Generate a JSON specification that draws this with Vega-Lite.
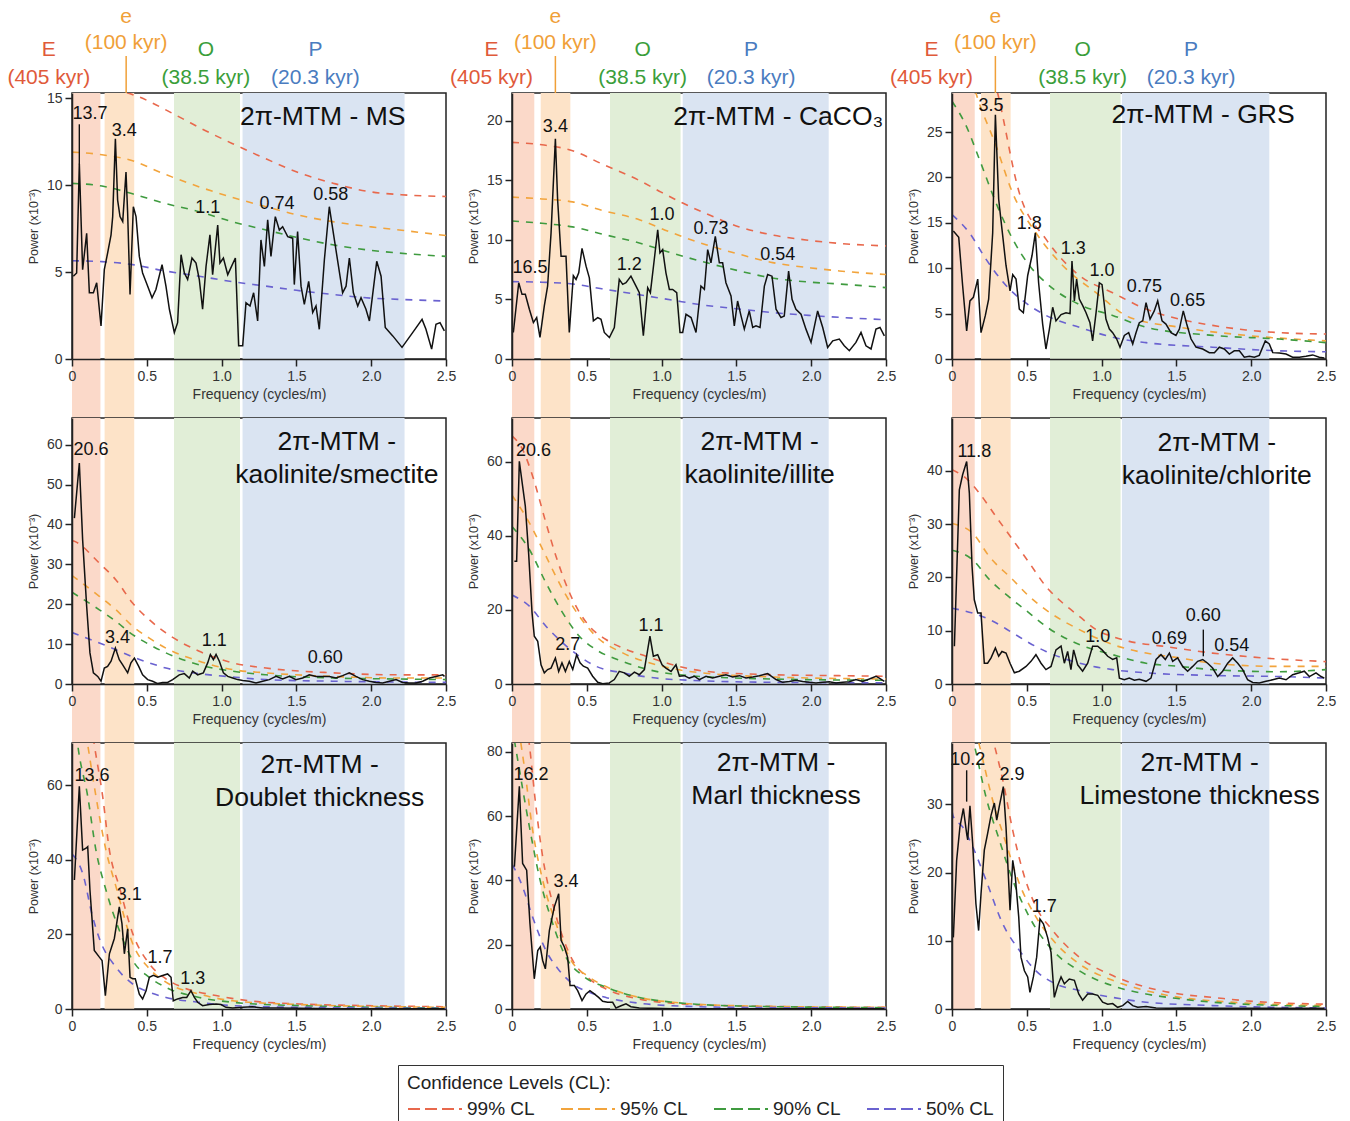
{
"$schema":"https://vega.github.io/schema/vega-lite/v6.json",
"background":"white",
"padding":{"left":6,"top":5,"right":5,"bottom":5},
"config":{
 "font":"Liberation Sans",
 "view":{"stroke":"#222","strokeWidth":1.5},
 "axis":{"grid":false,"domainColor":"#222","domainWidth":1.5,"tickColor":"#222","tickWidth":1.5,"tickSize":7,"labelColor":"#333","labelFontSize":14,"labelFont":"Liberation Sans","titleFont":"Liberation Sans","titleFontWeight":"normal","titleColor":"#333","zindex":1,"labelFlush":false,"labelOverlap":false},
 "axisX":{"titleFontSize":14,"labelPadding":3,"titlePadding":4},
 "axisY":{"titleFontSize":12.5,"labelPadding":3,"titlePadding":6},
 "text":{"font":"Liberation Sans"}
},
"resolve":{"scale":{"color":"independent","fill":"independent"},"legend":{"color":"independent","fill":"independent"}},
"datasets":{
"bands":[
{"col":0,"band":"E","f0":0,"f1":0.19},{"col":0,"band":"e","f0":0.218,"f1":0.416},{"col":0,"band":"O","f0":0.682,"f1":1.123},{"col":0,"band":"P","f0":1.14,"f1":2.223},
{"col":1,"band":"E","f0":0,"f1":0.149},{"col":1,"band":"e","f0":0.192,"f1":0.39},{"col":1,"band":"O","f0":0.655,"f1":1.127},{"col":1,"band":"P","f0":1.141,"f1":2.117},
{"col":2,"band":"E","f0":0,"f1":0.152},{"col":2,"band":"e","f0":0.194,"f1":0.392},{"col":2,"band":"O","f0":0.655,"f1":1.127},{"col":2,"band":"P","f0":1.136,"f1":2.121}
],
"bandlab":[
{"col":0,"band":"E","name":"E","per":"(405 kyr)","f":-0.155},{"col":0,"band":"e","name":"e","per":"(100 kyr)","f":0.362},{"col":0,"band":"O","name":"O","per":"(38.5 kyr)","f":0.895},{"col":0,"band":"P","name":"P","per":"(20.3 kyr)","f":1.627},
{"col":1,"band":"E","name":"E","per":"(405 kyr)","f":-0.137},{"col":1,"band":"e","name":"e","per":"(100 kyr)","f":0.29},{"col":1,"band":"O","name":"O","per":"(38.5 kyr)","f":0.873},{"col":1,"band":"P","name":"P","per":"(20.3 kyr)","f":1.598},
{"col":2,"band":"E","name":"E","per":"(405 kyr)","f":-0.137},{"col":2,"band":"e","name":"e","per":"(100 kyr)","f":0.29},{"col":2,"band":"O","name":"O","per":"(38.5 kyr)","f":0.873},{"col":2,"band":"P","name":"P","per":"(20.3 kyr)","f":1.598}
],
"peaks":[
{"p":"MS","f":0.12,"v":14.1,"t":"13.7"},{"p":"MS","f":0.35,"v":13.1,"t":"3.4"},{"p":"MS","f":0.907,"v":8.66,"t":"1.1"},{"p":"MS","f":1.37,"v":8.9,"t":"0.74"},{"p":"MS","f":1.73,"v":9.46,"t":"0.58"},
{"p":"CaCO3","f":0.12,"v":7.66,"t":"16.5"},{"p":"CaCO3","f":0.29,"v":19.5,"t":"3.4"},{"p":"CaCO3","f":0.784,"v":7.94,"t":"1.2"},{"p":"CaCO3","f":1.003,"v":12.1,"t":"1.0"},{"p":"CaCO3","f":1.33,"v":10.9,"t":"0.73"},{"p":"CaCO3","f":1.776,"v":8.77,"t":"0.54"},
{"p":"GRS","f":0.26,"v":27.9,"t":"3.5"},{"p":"GRS","f":0.517,"v":14.85,"t":"1.8"},{"p":"GRS","f":0.811,"v":12.1,"t":"1.3"},{"p":"GRS","f":1.003,"v":9.7,"t":"1.0"},{"p":"GRS","f":1.286,"v":7.9,"t":"0.75"},{"p":"GRS","f":1.575,"v":6.4,"t":"0.65"},
{"p":"KS","f":0.127,"v":58.7,"t":"20.6"},{"p":"KS","f":0.305,"v":11.5,"t":"3.4"},{"p":"KS","f":0.951,"v":10.7,"t":"1.1"},{"p":"KS","f":1.693,"v":6.5,"t":"0.60"},
{"p":"KI","f":0.143,"v":62.8,"t":"20.6"},{"p":"KI","f":0.372,"v":10.6,"t":"2.7"},{"p":"KI","f":0.929,"v":15.6,"t":"1.1"},
{"p":"KC","f":0.149,"v":43.6,"t":"11.8"},{"p":"KC","f":0.974,"v":8.9,"t":"1.0"},{"p":"KC","f":1.453,"v":8.4,"t":"0.69"},{"p":"KC","f":1.68,"v":12.7,"t":"0.60"},{"p":"KC","f":1.87,"v":7.1,"t":"0.54"},
{"p":"DT","f":0.134,"v":62.4,"t":"13.6"},{"p":"DT","f":0.383,"v":30.5,"t":"3.1"},{"p":"DT","f":0.588,"v":13.7,"t":"1.7"},{"p":"DT","f":0.807,"v":8.1,"t":"1.3"},
{"p":"MT","f":0.127,"v":72.9,"t":"16.2"},{"p":"MT","f":0.361,"v":39.6,"t":"3.4"},
{"p":"LT","f":0.105,"v":36.5,"t":"10.2"},{"p":"LT","f":0.401,"v":34.3,"t":"2.9"},{"p":"LT","f":0.617,"v":15.0,"t":"1.7"}
],
"leads":[
{"p":"MS","f":0.049,"v0":11.2,"v1":13.5},{"p":"KC","f":1.68,"v0":5.2,"v1":10.2},{"p":"LT","f":0.098,"v0":30.4,"v1":35.0}
],
"cl":[
{"p":"MS","c":"99% CL","f":0,"v":15.9},{"p":"MS","c":"99% CL","f":0.25,"v":15.6},{"p":"MS","c":"99% CL","f":0.44,"v":15.1},{"p":"MS","c":"99% CL","f":0.7,"v":14.0},{"p":"MS","c":"99% CL","f":0.9,"v":13.1},{"p":"MS","c":"99% CL","f":1.07,"v":12.4},{"p":"MS","c":"99% CL","f":1.3,"v":11.5},{"p":"MS","c":"99% CL","f":1.52,"v":10.7},{"p":"MS","c":"99% CL","f":1.75,"v":10.1},{"p":"MS","c":"99% CL","f":1.97,"v":9.65},{"p":"MS","c":"99% CL","f":2.2,"v":9.45},{"p":"MS","c":"99% CL","f":2.5,"v":9.35},
{"p":"MS","c":"95% CL","f":0,"v":11.9},{"p":"MS","c":"95% CL","f":0.2,"v":11.75},{"p":"MS","c":"95% CL","f":0.405,"v":11.4},{"p":"MS","c":"95% CL","f":0.6,"v":10.7},{"p":"MS","c":"95% CL","f":0.851,"v":9.9},{"p":"MS","c":"95% CL","f":1.07,"v":9.3},{"p":"MS","c":"95% CL","f":1.297,"v":8.76},{"p":"MS","c":"95% CL","f":1.5,"v":8.3},{"p":"MS","c":"95% CL","f":1.742,"v":7.9},{"p":"MS","c":"95% CL","f":2.0,"v":7.6},{"p":"MS","c":"95% CL","f":2.188,"v":7.42},{"p":"MS","c":"95% CL","f":2.5,"v":7.1},
{"p":"MS","c":"90% CL","f":0,"v":10.1},{"p":"MS","c":"90% CL","f":0.2,"v":9.95},{"p":"MS","c":"90% CL","f":0.405,"v":9.5},{"p":"MS","c":"90% CL","f":0.6,"v":9.0},{"p":"MS","c":"90% CL","f":0.851,"v":8.47},{"p":"MS","c":"90% CL","f":1.07,"v":7.9},{"p":"MS","c":"90% CL","f":1.297,"v":7.42},{"p":"MS","c":"90% CL","f":1.5,"v":7.0},{"p":"MS","c":"90% CL","f":1.742,"v":6.57},{"p":"MS","c":"90% CL","f":2.0,"v":6.25},{"p":"MS","c":"90% CL","f":2.188,"v":6.09},{"p":"MS","c":"90% CL","f":2.5,"v":5.9},
{"p":"MS","c":"50% CL","f":0,"v":5.65},{"p":"MS","c":"50% CL","f":0.2,"v":5.6},{"p":"MS","c":"50% CL","f":0.405,"v":5.43},{"p":"MS","c":"50% CL","f":0.6,"v":5.1},{"p":"MS","c":"50% CL","f":0.851,"v":4.76},{"p":"MS","c":"50% CL","f":1.07,"v":4.45},{"p":"MS","c":"50% CL","f":1.297,"v":4.19},{"p":"MS","c":"50% CL","f":1.5,"v":3.95},{"p":"MS","c":"50% CL","f":1.742,"v":3.71},{"p":"MS","c":"50% CL","f":2.0,"v":3.5},{"p":"MS","c":"50% CL","f":2.188,"v":3.43},{"p":"MS","c":"50% CL","f":2.5,"v":3.33},

{"p":"CaCO3","c":"99% CL","f":0,"v":18.2},{"p":"CaCO3","c":"99% CL","f":0.2,"v":18.0},{"p":"CaCO3","c":"99% CL","f":0.405,"v":17.5},{"p":"CaCO3","c":"99% CL","f":0.6,"v":16.4},{"p":"CaCO3","c":"99% CL","f":0.851,"v":15.0},{"p":"CaCO3","c":"99% CL","f":1.0,"v":14.0},{"p":"CaCO3","c":"99% CL","f":1.141,"v":13.1},{"p":"CaCO3","c":"99% CL","f":1.3,"v":12.2},{"p":"CaCO3","c":"99% CL","f":1.52,"v":11.1},{"p":"CaCO3","c":"99% CL","f":1.75,"v":10.4},{"p":"CaCO3","c":"99% CL","f":1.965,"v":10.0},{"p":"CaCO3","c":"99% CL","f":2.2,"v":9.7},{"p":"CaCO3","c":"99% CL","f":2.5,"v":9.5},
{"p":"CaCO3","c":"95% CL","f":0,"v":13.6},{"p":"CaCO3","c":"95% CL","f":0.2,"v":13.45},{"p":"CaCO3","c":"95% CL","f":0.405,"v":13.2},{"p":"CaCO3","c":"95% CL","f":0.6,"v":12.5},{"p":"CaCO3","c":"95% CL","f":0.851,"v":11.7},{"p":"CaCO3","c":"95% CL","f":1.07,"v":10.6},{"p":"CaCO3","c":"95% CL","f":1.297,"v":9.6},{"p":"CaCO3","c":"95% CL","f":1.52,"v":8.8},{"p":"CaCO3","c":"95% CL","f":1.742,"v":8.1},{"p":"CaCO3","c":"95% CL","f":2.0,"v":7.65},{"p":"CaCO3","c":"95% CL","f":2.188,"v":7.4},{"p":"CaCO3","c":"95% CL","f":2.5,"v":7.1},
{"p":"CaCO3","c":"90% CL","f":0,"v":11.6},{"p":"CaCO3","c":"90% CL","f":0.2,"v":11.4},{"p":"CaCO3","c":"90% CL","f":0.405,"v":11.1},{"p":"CaCO3","c":"90% CL","f":0.6,"v":10.5},{"p":"CaCO3","c":"90% CL","f":0.851,"v":9.75},{"p":"CaCO3","c":"90% CL","f":1.07,"v":8.9},{"p":"CaCO3","c":"90% CL","f":1.297,"v":8.1},{"p":"CaCO3","c":"90% CL","f":1.52,"v":7.4},{"p":"CaCO3","c":"90% CL","f":1.742,"v":6.8},{"p":"CaCO3","c":"90% CL","f":2.0,"v":6.45},{"p":"CaCO3","c":"90% CL","f":2.188,"v":6.3},{"p":"CaCO3","c":"90% CL","f":2.5,"v":6.0},
{"p":"CaCO3","c":"50% CL","f":0,"v":6.5},{"p":"CaCO3","c":"50% CL","f":0.2,"v":6.45},{"p":"CaCO3","c":"50% CL","f":0.405,"v":6.3},{"p":"CaCO3","c":"50% CL","f":0.6,"v":5.9},{"p":"CaCO3","c":"50% CL","f":0.851,"v":5.4},{"p":"CaCO3","c":"50% CL","f":1.07,"v":4.95},{"p":"CaCO3","c":"50% CL","f":1.297,"v":4.5},{"p":"CaCO3","c":"50% CL","f":1.52,"v":4.2},{"p":"CaCO3","c":"50% CL","f":1.742,"v":3.9},{"p":"CaCO3","c":"50% CL","f":2.0,"v":3.65},{"p":"CaCO3","c":"50% CL","f":2.188,"v":3.5},{"p":"CaCO3","c":"50% CL","f":2.5,"v":3.3},

{"p":"GRS","c":"99% CL","f":0,"v":44},{"p":"GRS","c":"99% CL","f":0.15,"v":38},{"p":"GRS","c":"99% CL","f":0.305,"v":29.3},{"p":"GRS","c":"99% CL","f":0.45,"v":18.3},{"p":"GRS","c":"99% CL","f":0.628,"v":13.2},{"p":"GRS","c":"99% CL","f":0.851,"v":9.2},{"p":"GRS","c":"99% CL","f":1.074,"v":7.3},{"p":"GRS","c":"99% CL","f":1.297,"v":5.5},{"p":"GRS","c":"99% CL","f":1.52,"v":4.4},{"p":"GRS","c":"99% CL","f":1.742,"v":3.7},{"p":"GRS","c":"99% CL","f":1.965,"v":3.2},{"p":"GRS","c":"99% CL","f":2.188,"v":2.9},{"p":"GRS","c":"99% CL","f":2.5,"v":2.75},
{"p":"GRS","c":"95% CL","f":0,"v":40},{"p":"GRS","c":"95% CL","f":0.16,"v":29.3},{"p":"GRS","c":"95% CL","f":0.294,"v":23.5},{"p":"GRS","c":"95% CL","f":0.405,"v":18.3},{"p":"GRS","c":"95% CL","f":0.561,"v":13.9},{"p":"GRS","c":"95% CL","f":0.74,"v":10.3},{"p":"GRS","c":"95% CL","f":0.963,"v":7.3},{"p":"GRS","c":"95% CL","f":1.185,"v":4.6},{"p":"GRS","c":"95% CL","f":1.52,"v":3.5},{"p":"GRS","c":"95% CL","f":1.965,"v":2.6},{"p":"GRS","c":"95% CL","f":2.5,"v":2.0},
{"p":"GRS","c":"90% CL","f":0,"v":28.4},{"p":"GRS","c":"90% CL","f":0.094,"v":25.7},{"p":"GRS","c":"90% CL","f":0.183,"v":22.0},{"p":"GRS","c":"90% CL","f":0.294,"v":17.2},{"p":"GRS","c":"90% CL","f":0.406,"v":13.2},{"p":"GRS","c":"90% CL","f":0.517,"v":10.3},{"p":"GRS","c":"90% CL","f":0.628,"v":8.4},{"p":"GRS","c":"90% CL","f":0.851,"v":6.0},{"p":"GRS","c":"90% CL","f":1.074,"v":4.8},{"p":"GRS","c":"90% CL","f":1.297,"v":3.5},{"p":"GRS","c":"90% CL","f":1.742,"v":2.6},{"p":"GRS","c":"90% CL","f":2.188,"v":2.2},{"p":"GRS","c":"90% CL","f":2.5,"v":1.8},
{"p":"GRS","c":"50% CL","f":0,"v":15.9},{"p":"GRS","c":"50% CL","f":0.116,"v":13.9},{"p":"GRS","c":"50% CL","f":0.227,"v":11.0},{"p":"GRS","c":"50% CL","f":0.361,"v":8.1},{"p":"GRS","c":"50% CL","f":0.517,"v":5.9},{"p":"GRS","c":"50% CL","f":0.628,"v":4.8},{"p":"GRS","c":"50% CL","f":0.851,"v":3.5},{"p":"GRS","c":"50% CL","f":1.074,"v":2.4},{"p":"GRS","c":"50% CL","f":1.297,"v":1.8},{"p":"GRS","c":"50% CL","f":1.742,"v":1.3},{"p":"GRS","c":"50% CL","f":2.188,"v":0.9},{"p":"GRS","c":"50% CL","f":2.5,"v":0.8},

{"p":"KS","c":"99% CL","f":0,"v":36},{"p":"KS","c":"99% CL","f":0.016,"v":35.8},{"p":"KS","c":"99% CL","f":0.183,"v":30.3},{"p":"KS","c":"99% CL","f":0.294,"v":26.1},{"p":"KS","c":"99% CL","f":0.405,"v":20.3},{"p":"KS","c":"99% CL","f":0.517,"v":16.1},{"p":"KS","c":"99% CL","f":0.628,"v":12.8},{"p":"KS","c":"99% CL","f":0.851,"v":8.2},{"p":"KS","c":"99% CL","f":1.074,"v":5.3},{"p":"KS","c":"99% CL","f":1.297,"v":4.0},{"p":"KS","c":"99% CL","f":1.742,"v":2.8},{"p":"KS","c":"99% CL","f":2.188,"v":2.3},{"p":"KS","c":"99% CL","f":2.5,"v":2.3},
{"p":"KS","c":"95% CL","f":0,"v":27.2},{"p":"KS","c":"95% CL","f":0.183,"v":22.0},{"p":"KS","c":"95% CL","f":0.294,"v":18.6},{"p":"KS","c":"95% CL","f":0.405,"v":14.5},{"p":"KS","c":"95% CL","f":0.517,"v":11.5},{"p":"KS","c":"95% CL","f":0.628,"v":9.0},{"p":"KS","c":"95% CL","f":0.851,"v":5.7},{"p":"KS","c":"95% CL","f":1.074,"v":3.6},{"p":"KS","c":"95% CL","f":1.297,"v":2.8},{"p":"KS","c":"95% CL","f":1.742,"v":1.9},{"p":"KS","c":"95% CL","f":2.188,"v":1.5},{"p":"KS","c":"95% CL","f":2.5,"v":1.5},
{"p":"KS","c":"90% CL","f":0,"v":23.0},{"p":"KS","c":"90% CL","f":0.183,"v":18.6},{"p":"KS","c":"90% CL","f":0.294,"v":15.7},{"p":"KS","c":"90% CL","f":0.405,"v":12.4},{"p":"KS","c":"90% CL","f":0.517,"v":9.9},{"p":"KS","c":"90% CL","f":0.628,"v":7.8},{"p":"KS","c":"90% CL","f":0.851,"v":4.8},{"p":"KS","c":"90% CL","f":1.074,"v":3.2},{"p":"KS","c":"90% CL","f":1.297,"v":2.3},{"p":"KS","c":"90% CL","f":1.742,"v":1.5},{"p":"KS","c":"90% CL","f":2.188,"v":1.25},{"p":"KS","c":"90% CL","f":2.5,"v":1.1},
{"p":"KS","c":"50% CL","f":0,"v":12.9},{"p":"KS","c":"50% CL","f":0.183,"v":10.3},{"p":"KS","c":"50% CL","f":0.294,"v":8.6},{"p":"KS","c":"50% CL","f":0.405,"v":6.8},{"p":"KS","c":"50% CL","f":0.517,"v":5.3},{"p":"KS","c":"50% CL","f":0.628,"v":4.0},{"p":"KS","c":"50% CL","f":0.851,"v":2.6},{"p":"KS","c":"50% CL","f":1.074,"v":1.75},{"p":"KS","c":"50% CL","f":1.297,"v":1.1},{"p":"KS","c":"50% CL","f":1.742,"v":0.7},{"p":"KS","c":"50% CL","f":2.5,"v":0.4},

{"p":"KI","c":"99% CL","f":0,"v":67},{"p":"KI","c":"99% CL","f":0.071,"v":63.3},{"p":"KI","c":"99% CL","f":0.138,"v":56.1},{"p":"KI","c":"99% CL","f":0.227,"v":43.5},{"p":"KI","c":"99% CL","f":0.294,"v":34.5},{"p":"KI","c":"99% CL","f":0.405,"v":22.8},{"p":"KI","c":"99% CL","f":0.517,"v":15.6},{"p":"KI","c":"99% CL","f":0.628,"v":12.0},{"p":"KI","c":"99% CL","f":0.74,"v":9.7},{"p":"KI","c":"99% CL","f":0.896,"v":7.5},{"p":"KI","c":"99% CL","f":1.074,"v":5.2},{"p":"KI","c":"99% CL","f":1.297,"v":3.4},{"p":"KI","c":"99% CL","f":1.742,"v":2.5},{"p":"KI","c":"99% CL","f":2.188,"v":2.25},{"p":"KI","c":"99% CL","f":2.5,"v":2.1},
{"p":"KI","c":"95% CL","f":0,"v":51},{"p":"KI","c":"95% CL","f":0.116,"v":43.5},{"p":"KI","c":"95% CL","f":0.227,"v":34.5},{"p":"KI","c":"95% CL","f":0.339,"v":25.5},{"p":"KI","c":"95% CL","f":0.45,"v":18.3},{"p":"KI","c":"95% CL","f":0.561,"v":12.9},{"p":"KI","c":"95% CL","f":0.74,"v":8.4},{"p":"KI","c":"95% CL","f":0.963,"v":5.2},{"p":"KI","c":"95% CL","f":1.185,"v":3.4},{"p":"KI","c":"95% CL","f":1.742,"v":1.9},{"p":"KI","c":"95% CL","f":2.5,"v":1.35},
{"p":"KI","c":"90% CL","f":0,"v":42.5},{"p":"KI","c":"90% CL","f":0.116,"v":36.3},{"p":"KI","c":"90% CL","f":0.227,"v":27.3},{"p":"KI","c":"90% CL","f":0.339,"v":19.2},{"p":"KI","c":"90% CL","f":0.45,"v":12.9},{"p":"KI","c":"90% CL","f":0.561,"v":9.3},{"p":"KI","c":"90% CL","f":0.74,"v":6.1},{"p":"KI","c":"90% CL","f":0.963,"v":3.4},{"p":"KI","c":"90% CL","f":1.185,"v":2.25},{"p":"KI","c":"90% CL","f":1.742,"v":1.35},{"p":"KI","c":"90% CL","f":2.5,"v":1.0},
{"p":"KI","c":"50% CL","f":0,"v":24},{"p":"KI","c":"50% CL","f":0.116,"v":21.0},{"p":"KI","c":"50% CL","f":0.227,"v":15.6},{"p":"KI","c":"50% CL","f":0.339,"v":11.1},{"p":"KI","c":"50% CL","f":0.45,"v":7.5},{"p":"KI","c":"50% CL","f":0.561,"v":4.8},{"p":"KI","c":"50% CL","f":0.74,"v":3.0},{"p":"KI","c":"50% CL","f":0.963,"v":1.6},{"p":"KI","c":"50% CL","f":1.185,"v":1.0},{"p":"KI","c":"50% CL","f":1.742,"v":0.45},{"p":"KI","c":"50% CL","f":2.5,"v":0.3},

{"p":"KC","c":"99% CL","f":0,"v":40.2},{"p":"KC","c":"99% CL","f":0.094,"v":38.6},{"p":"KC","c":"99% CL","f":0.183,"v":35.8},{"p":"KC","c":"99% CL","f":0.294,"v":31.4},{"p":"KC","c":"99% CL","f":0.405,"v":27.1},{"p":"KC","c":"99% CL","f":0.517,"v":22.7},{"p":"KC","c":"99% CL","f":0.628,"v":18.3},{"p":"KC","c":"99% CL","f":0.74,"v":15.2},{"p":"KC","c":"99% CL","f":0.851,"v":12.7},{"p":"KC","c":"99% CL","f":0.963,"v":10.2},{"p":"KC","c":"99% CL","f":1.074,"v":8.9},{"p":"KC","c":"99% CL","f":1.185,"v":8.0},{"p":"KC","c":"99% CL","f":1.408,"v":7.1},{"p":"KC","c":"99% CL","f":1.742,"v":5.8},{"p":"KC","c":"99% CL","f":2.077,"v":4.9},{"p":"KC","c":"99% CL","f":2.5,"v":4.2},
{"p":"KC","c":"95% CL","f":0,"v":30.1},{"p":"KC","c":"95% CL","f":0.138,"v":28.3},{"p":"KC","c":"95% CL","f":0.25,"v":23.9},{"p":"KC","c":"95% CL","f":0.405,"v":19.6},{"p":"KC","c":"95% CL","f":0.517,"v":16.4},{"p":"KC","c":"95% CL","f":0.628,"v":13.9},{"p":"KC","c":"95% CL","f":0.851,"v":10.2},{"p":"KC","c":"95% CL","f":1.074,"v":7.4},{"p":"KC","c":"95% CL","f":1.297,"v":5.8},{"p":"KC","c":"95% CL","f":1.52,"v":4.9},{"p":"KC","c":"95% CL","f":1.742,"v":3.9},{"p":"KC","c":"95% CL","f":2.188,"v":3.3},{"p":"KC","c":"95% CL","f":2.5,"v":3.3},
{"p":"KC","c":"90% CL","f":0,"v":25.1},{"p":"KC","c":"90% CL","f":0.138,"v":23.3},{"p":"KC","c":"90% CL","f":0.25,"v":19.6},{"p":"KC","c":"90% CL","f":0.405,"v":15.8},{"p":"KC","c":"90% CL","f":0.517,"v":13.3},{"p":"KC","c":"90% CL","f":0.628,"v":10.8},{"p":"KC","c":"90% CL","f":0.851,"v":7.4},{"p":"KC","c":"90% CL","f":1.074,"v":5.5},{"p":"KC","c":"90% CL","f":1.297,"v":3.9},{"p":"KC","c":"90% CL","f":1.52,"v":3.3},{"p":"KC","c":"90% CL","f":1.742,"v":2.7},{"p":"KC","c":"90% CL","f":2.188,"v":2.3},{"p":"KC","c":"90% CL","f":2.5,"v":2.7},
{"p":"KC","c":"50% CL","f":0,"v":14.2},{"p":"KC","c":"50% CL","f":0.138,"v":13.3},{"p":"KC","c":"50% CL","f":0.25,"v":12.1},{"p":"KC","c":"50% CL","f":0.405,"v":9.6},{"p":"KC","c":"50% CL","f":0.517,"v":7.7},{"p":"KC","c":"50% CL","f":0.628,"v":6.1},{"p":"KC","c":"50% CL","f":0.851,"v":3.9},{"p":"KC","c":"50% CL","f":1.074,"v":2.7},{"p":"KC","c":"50% CL","f":1.297,"v":2.1},{"p":"KC","c":"50% CL","f":1.742,"v":1.6},{"p":"KC","c":"50% CL","f":2.188,"v":1.4},{"p":"KC","c":"50% CL","f":2.5,"v":1.1},

{"p":"DT","c":"99% CL","f":0,"v":110},{"p":"DT","c":"99% CL","f":0.1,"v":85},{"p":"DT","c":"99% CL","f":0.149,"v":70.9},{"p":"DT","c":"99% CL","f":0.205,"v":57.0},{"p":"DT","c":"99% CL","f":0.25,"v":42.6},{"p":"DT","c":"99% CL","f":0.316,"v":32.8},{"p":"DT","c":"99% CL","f":0.406,"v":20.2},{"p":"DT","c":"99% CL","f":0.517,"v":12.1},{"p":"DT","c":"99% CL","f":0.628,"v":8.1},{"p":"DT","c":"99% CL","f":0.74,"v":5.8},{"p":"DT","c":"99% CL","f":0.963,"v":3.6},{"p":"DT","c":"99% CL","f":1.185,"v":2.2},{"p":"DT","c":"99% CL","f":1.52,"v":1.35},{"p":"DT","c":"99% CL","f":1.965,"v":0.9},{"p":"DT","c":"99% CL","f":2.5,"v":0.6},
{"p":"DT","c":"95% CL","f":0,"v":100},{"p":"DT","c":"95% CL","f":0.105,"v":70.9},{"p":"DT","c":"95% CL","f":0.16,"v":57.0},{"p":"DT","c":"95% CL","f":0.227,"v":42.6},{"p":"DT","c":"95% CL","f":0.294,"v":32.8},{"p":"DT","c":"95% CL","f":0.406,"v":17.5},{"p":"DT","c":"95% CL","f":0.517,"v":10.8},{"p":"DT","c":"95% CL","f":0.628,"v":7.2},{"p":"DT","c":"95% CL","f":0.851,"v":4.0},{"p":"DT","c":"95% CL","f":1.074,"v":2.2},{"p":"DT","c":"95% CL","f":1.52,"v":1.2},{"p":"DT","c":"95% CL","f":2.5,"v":0.45},
{"p":"DT","c":"90% CL","f":0,"v":85},{"p":"DT","c":"90% CL","f":0.038,"v":70.9},{"p":"DT","c":"90% CL","f":0.105,"v":57.0},{"p":"DT","c":"90% CL","f":0.16,"v":42.6},{"p":"DT","c":"90% CL","f":0.227,"v":31.9},{"p":"DT","c":"90% CL","f":0.316,"v":21.1},{"p":"DT","c":"90% CL","f":0.406,"v":13.0},{"p":"DT","c":"90% CL","f":0.517,"v":8.5},{"p":"DT","c":"90% CL","f":0.628,"v":5.8},{"p":"DT","c":"90% CL","f":0.851,"v":3.1},{"p":"DT","c":"90% CL","f":1.074,"v":1.8},{"p":"DT","c":"90% CL","f":1.52,"v":0.9},{"p":"DT","c":"90% CL","f":2.5,"v":0.27},
{"p":"DT","c":"50% CL","f":0,"v":41.5},{"p":"DT","c":"50% CL","f":0.016,"v":40.8},{"p":"DT","c":"50% CL","f":0.071,"v":36.4},{"p":"DT","c":"50% CL","f":0.138,"v":24.7},{"p":"DT","c":"50% CL","f":0.183,"v":18.9},{"p":"DT","c":"50% CL","f":0.294,"v":11.2},{"p":"DT","c":"50% CL","f":0.406,"v":6.7},{"p":"DT","c":"50% CL","f":0.517,"v":4.5},{"p":"DT","c":"50% CL","f":0.628,"v":3.1},{"p":"DT","c":"50% CL","f":0.851,"v":1.8},{"p":"DT","c":"50% CL","f":1.074,"v":0.9},{"p":"DT","c":"50% CL","f":1.52,"v":0.45},{"p":"DT","c":"50% CL","f":2.5,"v":0.18},

{"p":"MT","c":"99% CL","f":0,"v":110},{"p":"MT","c":"99% CL","f":0.116,"v":82.3},{"p":"MT","c":"99% CL","f":0.16,"v":63.0},{"p":"MT","c":"99% CL","f":0.205,"v":47.4},{"p":"MT","c":"99% CL","f":0.272,"v":32.8},{"p":"MT","c":"99% CL","f":0.339,"v":22.4},{"p":"MT","c":"99% CL","f":0.406,"v":15.1},{"p":"MT","c":"99% CL","f":0.517,"v":9.4},{"p":"MT","c":"99% CL","f":0.628,"v":6.25},{"p":"MT","c":"99% CL","f":0.851,"v":3.1},{"p":"MT","c":"99% CL","f":1.074,"v":1.8},{"p":"MT","c":"99% CL","f":1.52,"v":0.94},{"p":"MT","c":"99% CL","f":2.5,"v":0.5},
{"p":"MT","c":"95% CL","f":0,"v":100},{"p":"MT","c":"95% CL","f":0.082,"v":75.5},{"p":"MT","c":"95% CL","f":0.138,"v":55.7},{"p":"MT","c":"95% CL","f":0.205,"v":40.1},{"p":"MT","c":"95% CL","f":0.294,"v":26.6},{"p":"MT","c":"95% CL","f":0.383,"v":16.1},{"p":"MT","c":"95% CL","f":0.517,"v":9.9},{"p":"MT","c":"95% CL","f":0.628,"v":7.0},{"p":"MT","c":"95% CL","f":0.851,"v":3.6},{"p":"MT","c":"95% CL","f":1.074,"v":2.1},{"p":"MT","c":"95% CL","f":1.52,"v":1.0},{"p":"MT","c":"95% CL","f":2.5,"v":0.5},
{"p":"MT","c":"90% CL","f":0,"v":88},{"p":"MT","c":"90% CL","f":0.038,"v":77.6},{"p":"MT","c":"90% CL","f":0.116,"v":56.8},{"p":"MT","c":"90% CL","f":0.183,"v":41.1},{"p":"MT","c":"90% CL","f":0.272,"v":26.6},{"p":"MT","c":"90% CL","f":0.361,"v":16.1},{"p":"MT","c":"90% CL","f":0.472,"v":10.4},{"p":"MT","c":"90% CL","f":0.628,"v":6.8},{"p":"MT","c":"90% CL","f":0.851,"v":3.6},{"p":"MT","c":"90% CL","f":1.074,"v":2.1},{"p":"MT","c":"90% CL","f":1.52,"v":0.94},{"p":"MT","c":"90% CL","f":2.5,"v":0.4},
{"p":"MT","c":"50% CL","f":0,"v":45},{"p":"MT","c":"50% CL","f":0.016,"v":43.75},{"p":"MT","c":"50% CL","f":0.071,"v":38.0},{"p":"MT","c":"50% CL","f":0.138,"v":28.6},{"p":"MT","c":"50% CL","f":0.227,"v":18.2},{"p":"MT","c":"50% CL","f":0.316,"v":12.0},{"p":"MT","c":"50% CL","f":0.406,"v":7.8},{"p":"MT","c":"50% CL","f":0.517,"v":5.2},{"p":"MT","c":"50% CL","f":0.628,"v":3.6},{"p":"MT","c":"50% CL","f":0.851,"v":1.8},{"p":"MT","c":"50% CL","f":1.074,"v":1.0},{"p":"MT","c":"50% CL","f":1.52,"v":0.5},{"p":"MT","c":"50% CL","f":2.5,"v":0.3},

{"p":"LT","c":"99% CL","f":0,"v":60},{"p":"LT","c":"99% CL","f":0.2,"v":45},{"p":"LT","c":"99% CL","f":0.283,"v":38.7},{"p":"LT","c":"99% CL","f":0.339,"v":33.6},{"p":"LT","c":"99% CL","f":0.406,"v":26.2},{"p":"LT","c":"99% CL","f":0.472,"v":20.3},{"p":"LT","c":"99% CL","f":0.561,"v":15.0},{"p":"LT","c":"99% CL","f":0.673,"v":11.5},{"p":"LT","c":"99% CL","f":0.851,"v":7.6},{"p":"LT","c":"99% CL","f":1.074,"v":4.9},{"p":"LT","c":"99% CL","f":1.297,"v":3.2},{"p":"LT","c":"99% CL","f":1.52,"v":2.2},{"p":"LT","c":"99% CL","f":1.742,"v":1.7},{"p":"LT","c":"99% CL","f":1.965,"v":1.2},{"p":"LT","c":"99% CL","f":2.5,"v":0.7},
{"p":"LT","c":"95% CL","f":0,"v":55},{"p":"LT","c":"95% CL","f":0.183,"v":38.7},{"p":"LT","c":"95% CL","f":0.272,"v":30.6},{"p":"LT","c":"95% CL","f":0.361,"v":24.3},{"p":"LT","c":"95% CL","f":0.45,"v":18.4},{"p":"LT","c":"95% CL","f":0.561,"v":13.5},{"p":"LT","c":"95% CL","f":0.695,"v":9.6},{"p":"LT","c":"95% CL","f":0.851,"v":6.6},{"p":"LT","c":"95% CL","f":1.074,"v":4.2},{"p":"LT","c":"95% CL","f":1.297,"v":2.7},{"p":"LT","c":"95% CL","f":1.52,"v":1.7},{"p":"LT","c":"95% CL","f":1.742,"v":1.2},{"p":"LT","c":"95% CL","f":2.5,"v":0.5},
{"p":"LT","c":"90% CL","f":0,"v":50},{"p":"LT","c":"90% CL","f":0.149,"v":38.7},{"p":"LT","c":"90% CL","f":0.227,"v":31.1},{"p":"LT","c":"90% CL","f":0.316,"v":24.8},{"p":"LT","c":"90% CL","f":0.406,"v":18.9},{"p":"LT","c":"90% CL","f":0.517,"v":13.5},{"p":"LT","c":"90% CL","f":0.673,"v":8.6},{"p":"LT","c":"90% CL","f":0.851,"v":5.6},{"p":"LT","c":"90% CL","f":1.074,"v":3.4},{"p":"LT","c":"90% CL","f":1.297,"v":2.2},{"p":"LT","c":"90% CL","f":1.52,"v":1.5},{"p":"LT","c":"90% CL","f":1.742,"v":1.0},{"p":"LT","c":"90% CL","f":2.5,"v":0.35},
{"p":"LT","c":"50% CL","f":0,"v":29},{"p":"LT","c":"50% CL","f":0.009,"v":28.2},{"p":"LT","c":"50% CL","f":0.071,"v":26.7},{"p":"LT","c":"50% CL","f":0.138,"v":23.8},{"p":"LT","c":"50% CL","f":0.227,"v":18.9},{"p":"LT","c":"50% CL","f":0.339,"v":12.5},{"p":"LT","c":"50% CL","f":0.45,"v":8.6},{"p":"LT","c":"50% CL","f":0.561,"v":5.6},{"p":"LT","c":"50% CL","f":0.673,"v":3.9},{"p":"LT","c":"50% CL","f":0.851,"v":2.7},{"p":"LT","c":"50% CL","f":1.074,"v":1.7},{"p":"LT","c":"50% CL","f":1.297,"v":1.0},{"p":"LT","c":"50% CL","f":1.742,"v":0.5},{"p":"LT","c":"50% CL","f":2.5,"v":0.15}
],
"spec":[
{"p":"MS","f":0.009,"v":4.76},{"p":"MS","f":0.031,"v":4.95},{"p":"MS","f":0.049,"v":11.23},{"p":"MS","f":0.071,"v":5.14},{"p":"MS","f":0.098,"v":7.23},{"p":"MS","f":0.116,"v":3.81},{"p":"MS","f":0.143,"v":3.81},{"p":"MS","f":0.165,"v":4.38},{"p":"MS","f":0.194,"v":1.9},{"p":"MS","f":0.216,"v":5.14},{"p":"MS","f":0.238,"v":6.09},{"p":"MS","f":0.261,"v":7.14},{"p":"MS","f":0.272,"v":8.19},{"p":"MS","f":0.29,"v":12.66},{"p":"MS","f":0.305,"v":9.14},{"p":"MS","f":0.321,"v":8.19},{"p":"MS","f":0.339,"v":7.9},{"p":"MS","f":0.361,"v":10.76},{"p":"MS","f":0.372,"v":8.38},{"p":"MS","f":0.388,"v":3.71},{"p":"MS","f":0.41,"v":8.76},{"p":"MS","f":0.428,"v":8.19},{"p":"MS","f":0.45,"v":5.9},{"p":"MS","f":0.472,"v":4.95},{"p":"MS","f":0.506,"v":4.19},{"p":"MS","f":0.535,"v":3.52},{"p":"MS","f":0.561,"v":4.0},{"p":"MS","f":0.602,"v":5.43},{"p":"MS","f":0.628,"v":4.19},{"p":"MS","f":0.651,"v":2.86},{"p":"MS","f":0.684,"v":1.52},{"p":"MS","f":0.706,"v":2.09},{"p":"MS","f":0.729,"v":6.0},{"p":"MS","f":0.751,"v":4.95},{"p":"MS","f":0.773,"v":4.57},{"p":"MS","f":0.802,"v":5.81},{"p":"MS","f":0.829,"v":5.52},{"p":"MS","f":0.851,"v":4.57},{"p":"MS","f":0.873,"v":2.86},{"p":"MS","f":0.896,"v":5.33},{"p":"MS","f":0.922,"v":7.14},{"p":"MS","f":0.94,"v":4.85},{"p":"MS","f":0.974,"v":7.71},{"p":"MS","f":0.989,"v":5.52},{"p":"MS","f":1.012,"v":5.81},{"p":"MS","f":1.041,"v":4.85},{"p":"MS","f":1.092,"v":5.81},{"p":"MS","f":1.114,"v":0.76},{"p":"MS","f":1.141,"v":0.76},{"p":"MS","f":1.163,"v":3.24},{"p":"MS","f":1.19,"v":3.05},{"p":"MS","f":1.214,"v":3.81},{"p":"MS","f":1.241,"v":2.19},{"p":"MS","f":1.263,"v":6.85},{"p":"MS","f":1.286,"v":5.33},{"p":"MS","f":1.308,"v":8.0},{"p":"MS","f":1.33,"v":5.9},{"p":"MS","f":1.359,"v":8.19},{"p":"MS","f":1.386,"v":7.42},{"p":"MS","f":1.408,"v":7.61},{"p":"MS","f":1.442,"v":7.04},{"p":"MS","f":1.475,"v":6.95},{"p":"MS","f":1.486,"v":4.28},{"p":"MS","f":1.508,"v":7.33},{"p":"MS","f":1.531,"v":4.19},{"p":"MS","f":1.553,"v":3.14},{"p":"MS","f":1.582,"v":4.47},{"p":"MS","f":1.609,"v":2.67},{"p":"MS","f":1.631,"v":3.05},{"p":"MS","f":1.653,"v":1.71},{"p":"MS","f":1.687,"v":5.71},{"p":"MS","f":1.72,"v":8.76},{"p":"MS","f":1.754,"v":6.85},{"p":"MS","f":1.809,"v":3.81},{"p":"MS","f":1.832,"v":4.19},{"p":"MS","f":1.854,"v":5.81},{"p":"MS","f":1.881,"v":3.81},{"p":"MS","f":1.91,"v":3.05},{"p":"MS","f":1.932,"v":3.52},{"p":"MS","f":1.965,"v":2.86},{"p":"MS","f":1.988,"v":2.19},{"p":"MS","f":2.037,"v":5.62},{"p":"MS","f":2.066,"v":4.76},{"p":"MS","f":2.094,"v":1.81},{"p":"MS","f":2.144,"v":1.33},{"p":"MS","f":2.206,"v":0.67},{"p":"MS","f":2.277,"v":1.52},{"p":"MS","f":2.34,"v":2.28},{"p":"MS","f":2.366,"v":1.71},{"p":"MS","f":2.404,"v":0.57},{"p":"MS","f":2.433,"v":2.0},{"p":"MS","f":2.46,"v":2.09},{"p":"MS","f":2.489,"v":1.62},

{"p":"CaCO3","f":0.009,"v":2.23},{"p":"CaCO3","f":0.045,"v":6.41},{"p":"CaCO3","f":0.067,"v":5.43},{"p":"CaCO3","f":0.089,"v":5.43},{"p":"CaCO3","f":0.116,"v":4.18},{"p":"CaCO3","f":0.143,"v":3.06},{"p":"CaCO3","f":0.165,"v":3.48},{"p":"CaCO3","f":0.187,"v":1.81},{"p":"CaCO3","f":0.216,"v":4.46},{"p":"CaCO3","f":0.238,"v":6.13},{"p":"CaCO3","f":0.261,"v":10.58},{"p":"CaCO3","f":0.29,"v":18.5},{"p":"CaCO3","f":0.305,"v":13.37},{"p":"CaCO3","f":0.328,"v":8.64},{"p":"CaCO3","f":0.361,"v":8.64},{"p":"CaCO3","f":0.383,"v":2.23},{"p":"CaCO3","f":0.41,"v":7.0},{"p":"CaCO3","f":0.428,"v":6.69},{"p":"CaCO3","f":0.446,"v":7.24},{"p":"CaCO3","f":0.468,"v":9.3},{"p":"CaCO3","f":0.495,"v":7.8},{"p":"CaCO3","f":0.517,"v":6.82},{"p":"CaCO3","f":0.544,"v":3.2},{"p":"CaCO3","f":0.573,"v":3.48},{"p":"CaCO3","f":0.595,"v":3.34},{"p":"CaCO3","f":0.617,"v":2.23},{"p":"CaCO3","f":0.651,"v":1.81},{"p":"CaCO3","f":0.684,"v":2.65},{"p":"CaCO3","f":0.717,"v":6.69},{"p":"CaCO3","f":0.74,"v":6.27},{"p":"CaCO3","f":0.762,"v":6.41},{"p":"CaCO3","f":0.795,"v":6.96},{"p":"CaCO3","f":0.829,"v":6.13},{"p":"CaCO3","f":0.851,"v":5.57},{"p":"CaCO3","f":0.878,"v":1.95},{"p":"CaCO3","f":0.907,"v":5.99},{"p":"CaCO3","f":0.925,"v":5.57},{"p":"CaCO3","f":0.951,"v":8.36},{"p":"CaCO3","f":0.974,"v":10.86},{"p":"CaCO3","f":0.989,"v":8.91},{"p":"CaCO3","f":1.007,"v":9.19},{"p":"CaCO3","f":1.029,"v":7.24},{"p":"CaCO3","f":1.052,"v":5.85},{"p":"CaCO3","f":1.074,"v":5.85},{"p":"CaCO3","f":1.101,"v":5.57},{"p":"CaCO3","f":1.123,"v":2.23},{"p":"CaCO3","f":1.141,"v":2.23},{"p":"CaCO3","f":1.163,"v":3.76},{"p":"CaCO3","f":1.197,"v":3.48},{"p":"CaCO3","f":1.23,"v":2.23},{"p":"CaCO3","f":1.263,"v":6.13},{"p":"CaCO3","f":1.286,"v":5.85},{"p":"CaCO3","f":1.308,"v":9.19},{"p":"CaCO3","f":1.33,"v":8.08},{"p":"CaCO3","f":1.359,"v":10.31},{"p":"CaCO3","f":1.386,"v":8.08},{"p":"CaCO3","f":1.408,"v":8.08},{"p":"CaCO3","f":1.43,"v":6.41},{"p":"CaCO3","f":1.464,"v":5.29},{"p":"CaCO3","f":1.486,"v":2.79},{"p":"CaCO3","f":1.508,"v":4.87},{"p":"CaCO3","f":1.531,"v":3.62},{"p":"CaCO3","f":1.553,"v":2.51},{"p":"CaCO3","f":1.586,"v":4.04},{"p":"CaCO3","f":1.609,"v":2.65},{"p":"CaCO3","f":1.631,"v":2.79},{"p":"CaCO3","f":1.658,"v":2.65},{"p":"CaCO3","f":1.687,"v":6.13},{"p":"CaCO3","f":1.709,"v":7.1},{"p":"CaCO3","f":1.738,"v":6.96},{"p":"CaCO3","f":1.765,"v":4.18},{"p":"CaCO3","f":1.798,"v":3.48},{"p":"CaCO3","f":1.82,"v":3.62},{"p":"CaCO3","f":1.849,"v":7.38},{"p":"CaCO3","f":1.872,"v":5.01},{"p":"CaCO3","f":1.898,"v":4.18},{"p":"CaCO3","f":1.932,"v":3.76},{"p":"CaCO3","f":1.965,"v":2.51},{"p":"CaCO3","f":1.999,"v":1.39},{"p":"CaCO3","f":2.043,"v":4.04},{"p":"CaCO3","f":2.077,"v":2.65},{"p":"CaCO3","f":2.11,"v":0.97},{"p":"CaCO3","f":2.144,"v":1.53},{"p":"CaCO3","f":2.188,"v":1.67},{"p":"CaCO3","f":2.221,"v":1.11},{"p":"CaCO3","f":2.255,"v":0.7},{"p":"CaCO3","f":2.299,"v":1.39},{"p":"CaCO3","f":2.333,"v":2.23},{"p":"CaCO3","f":2.366,"v":1.11},{"p":"CaCO3","f":2.4,"v":0.84},{"p":"CaCO3","f":2.433,"v":2.51},{"p":"CaCO3","f":2.46,"v":2.65},{"p":"CaCO3","f":2.489,"v":1.95},

{"p":"GRS","f":0.009,"v":14.1},{"p":"GRS","f":0.045,"v":13.4},{"p":"GRS","f":0.071,"v":8.1},{"p":"GRS","f":0.098,"v":3.1},{"p":"GRS","f":0.12,"v":6.4},{"p":"GRS","f":0.143,"v":6.8},{"p":"GRS","f":0.172,"v":8.8},{"p":"GRS","f":0.194,"v":2.9},{"p":"GRS","f":0.223,"v":4.8},{"p":"GRS","f":0.245,"v":6.6},{"p":"GRS","f":0.272,"v":13.9},{"p":"GRS","f":0.29,"v":26.9},{"p":"GRS","f":0.312,"v":17.6},{"p":"GRS","f":0.334,"v":14.3},{"p":"GRS","f":0.361,"v":10.3},{"p":"GRS","f":0.388,"v":7.5},{"p":"GRS","f":0.406,"v":9.3},{"p":"GRS","f":0.428,"v":8.8},{"p":"GRS","f":0.45,"v":5.5},{"p":"GRS","f":0.477,"v":5.1},{"p":"GRS","f":0.506,"v":9.2},{"p":"GRS","f":0.535,"v":11.4},{"p":"GRS","f":0.557,"v":13.9},{"p":"GRS","f":0.579,"v":8.4},{"p":"GRS","f":0.606,"v":3.85},{"p":"GRS","f":0.628,"v":1.1},{"p":"GRS","f":0.651,"v":3.3},{"p":"GRS","f":0.673,"v":5.7},{"p":"GRS","f":0.695,"v":4.2},{"p":"GRS","f":0.729,"v":4.9},{"p":"GRS","f":0.762,"v":5.1},{"p":"GRS","f":0.789,"v":5.0},{"p":"GRS","f":0.802,"v":10.8},{"p":"GRS","f":0.818,"v":6.4},{"p":"GRS","f":0.833,"v":8.8},{"p":"GRS","f":0.851,"v":6.6},{"p":"GRS","f":0.873,"v":5.9},{"p":"GRS","f":0.896,"v":5.1},{"p":"GRS","f":0.922,"v":4.0},{"p":"GRS","f":0.94,"v":2.0},{"p":"GRS","f":0.963,"v":5.1},{"p":"GRS","f":0.985,"v":8.4},{"p":"GRS","f":1.003,"v":8.2},{"p":"GRS","f":1.029,"v":4.4},{"p":"GRS","f":1.052,"v":3.3},{"p":"GRS","f":1.074,"v":2.9},{"p":"GRS","f":1.101,"v":2.2},{"p":"GRS","f":1.123,"v":1.3},{"p":"GRS","f":1.152,"v":2.6},{"p":"GRS","f":1.181,"v":2.9},{"p":"GRS","f":1.208,"v":1.65},{"p":"GRS","f":1.23,"v":2.9},{"p":"GRS","f":1.252,"v":4.0},{"p":"GRS","f":1.275,"v":4.2},{"p":"GRS","f":1.297,"v":6.2},{"p":"GRS","f":1.324,"v":4.4},{"p":"GRS","f":1.352,"v":5.3},{"p":"GRS","f":1.375,"v":6.4},{"p":"GRS","f":1.404,"v":4.2},{"p":"GRS","f":1.43,"v":3.85},{"p":"GRS","f":1.464,"v":2.9},{"p":"GRS","f":1.497,"v":2.6},{"p":"GRS","f":1.52,"v":3.3},{"p":"GRS","f":1.546,"v":5.3},{"p":"GRS","f":1.569,"v":3.85},{"p":"GRS","f":1.598,"v":2.2},{"p":"GRS","f":1.631,"v":1.3},{"p":"GRS","f":1.676,"v":1.1},{"p":"GRS","f":1.72,"v":0.7},{"p":"GRS","f":1.754,"v":0.7},{"p":"GRS","f":1.787,"v":1.3},{"p":"GRS","f":1.82,"v":1.1},{"p":"GRS","f":1.854,"v":0.55},{"p":"GRS","f":1.887,"v":0.9},{"p":"GRS","f":1.921,"v":0.9},{"p":"GRS","f":1.954,"v":0.2},{"p":"GRS","f":1.988,"v":0.3},{"p":"GRS","f":2.021,"v":0.2},{"p":"GRS","f":2.054,"v":0.4},{"p":"GRS","f":2.094,"v":2.0},{"p":"GRS","f":2.121,"v":1.65},{"p":"GRS","f":2.144,"v":0.7},{"p":"GRS","f":2.188,"v":0.65},{"p":"GRS","f":2.233,"v":0.55},{"p":"GRS","f":2.277,"v":0.2},{"p":"GRS","f":2.322,"v":0.2},{"p":"GRS","f":2.366,"v":0.3},{"p":"GRS","f":2.411,"v":0.45},{"p":"GRS","f":2.455,"v":0.2},{"p":"GRS","f":2.489,"v":0.1},

{"p":"KS","f":0.016,"v":41.6},{"p":"KS","f":0.049,"v":55.4},{"p":"KS","f":0.071,"v":36.2},{"p":"KS","f":0.098,"v":19.5},{"p":"KS","f":0.12,"v":7.8},{"p":"KS","f":0.143,"v":2.8},{"p":"KS","f":0.172,"v":1.9},{"p":"KS","f":0.194,"v":0.7},{"p":"KS","f":0.216,"v":4.0},{"p":"KS","f":0.238,"v":4.4},{"p":"KS","f":0.261,"v":5.7},{"p":"KS","f":0.29,"v":9.0},{"p":"KS","f":0.316,"v":6.1},{"p":"KS","f":0.339,"v":4.8},{"p":"KS","f":0.372,"v":2.8},{"p":"KS","f":0.394,"v":5.3},{"p":"KS","f":0.417,"v":6.5},{"p":"KS","f":0.446,"v":4.4},{"p":"KS","f":0.472,"v":2.3},{"p":"KS","f":0.506,"v":1.1},{"p":"KS","f":0.539,"v":0.7},{"p":"KS","f":0.573,"v":0.1},{"p":"KS","f":0.606,"v":0.4},{"p":"KS","f":0.639,"v":0.4},{"p":"KS","f":0.673,"v":1.1},{"p":"KS","f":0.717,"v":2.3},{"p":"KS","f":0.751,"v":2.6},{"p":"KS","f":0.784,"v":1.5},{"p":"KS","f":0.807,"v":3.2},{"p":"KS","f":0.84,"v":2.3},{"p":"KS","f":0.878,"v":2.8},{"p":"KS","f":0.907,"v":5.3},{"p":"KS","f":0.925,"v":7.4},{"p":"KS","f":0.945,"v":6.1},{"p":"KS","f":0.963,"v":7.4},{"p":"KS","f":0.985,"v":5.7},{"p":"KS","f":1.012,"v":2.8},{"p":"KS","f":1.041,"v":1.9},{"p":"KS","f":1.074,"v":1.5},{"p":"KS","f":1.107,"v":1.1},{"p":"KS","f":1.141,"v":0.9},{"p":"KS","f":1.185,"v":0.7},{"p":"KS","f":1.23,"v":0.25},{"p":"KS","f":1.275,"v":0.7},{"p":"KS","f":1.319,"v":1.1},{"p":"KS","f":1.364,"v":1.9},{"p":"KS","f":1.408,"v":1.25},{"p":"KS","f":1.453,"v":1.9},{"p":"KS","f":1.497,"v":1.1},{"p":"KS","f":1.542,"v":1.5},{"p":"KS","f":1.586,"v":2.3},{"p":"KS","f":1.631,"v":1.9},{"p":"KS","f":1.676,"v":1.9},{"p":"KS","f":1.72,"v":1.9},{"p":"KS","f":1.765,"v":1.5},{"p":"KS","f":1.809,"v":2.1},{"p":"KS","f":1.854,"v":2.8},{"p":"KS","f":1.898,"v":1.9},{"p":"KS","f":1.943,"v":1.1},{"p":"KS","f":1.988,"v":0.7},{"p":"KS","f":2.032,"v":0.4},{"p":"KS","f":2.077,"v":0.25},{"p":"KS","f":2.121,"v":0.7},{"p":"KS","f":2.166,"v":1.1},{"p":"KS","f":2.21,"v":0.4},{"p":"KS","f":2.255,"v":0.25},{"p":"KS","f":2.299,"v":0.25},{"p":"KS","f":2.344,"v":0.7},{"p":"KS","f":2.389,"v":1.5},{"p":"KS","f":2.433,"v":1.9},{"p":"KS","f":2.478,"v":2.3},{"p":"KS","f":2.49,"v":1.9},

{"p":"KI","f":0.016,"v":33.1},{"p":"KI","f":0.031,"v":33.1},{"p":"KI","f":0.049,"v":60.1},{"p":"KI","f":0.071,"v":53.4},{"p":"KI","f":0.089,"v":48.0},{"p":"KI","f":0.111,"v":35.4},{"p":"KI","f":0.134,"v":19.2},{"p":"KI","f":0.149,"v":12.9},{"p":"KI","f":0.172,"v":11.5},{"p":"KI","f":0.194,"v":5.2},{"p":"KI","f":0.216,"v":3.0},{"p":"KI","f":0.238,"v":3.9},{"p":"KI","f":0.261,"v":4.3},{"p":"KI","f":0.29,"v":7.0},{"p":"KI","f":0.312,"v":3.4},{"p":"KI","f":0.334,"v":5.7},{"p":"KI","f":0.357,"v":3.4},{"p":"KI","f":0.383,"v":6.1},{"p":"KI","f":0.406,"v":3.9},{"p":"KI","f":0.432,"v":7.9},{"p":"KI","f":0.455,"v":5.7},{"p":"KI","f":0.477,"v":4.8},{"p":"KI","f":0.506,"v":4.3},{"p":"KI","f":0.539,"v":2.1},{"p":"KI","f":0.573,"v":0.45},{"p":"KI","f":0.606,"v":0.1},{"p":"KI","f":0.651,"v":0.3},{"p":"KI","f":0.684,"v":1.2},{"p":"KI","f":0.717,"v":3.4},{"p":"KI","f":0.751,"v":3.0},{"p":"KI","f":0.784,"v":2.1},{"p":"KI","f":0.818,"v":3.2},{"p":"KI","f":0.851,"v":2.5},{"p":"KI","f":0.885,"v":3.9},{"p":"KI","f":0.922,"v":12.9},{"p":"KI","f":0.945,"v":7.5},{"p":"KI","f":0.974,"v":7.9},{"p":"KI","f":1.003,"v":5.2},{"p":"KI","f":1.029,"v":4.3},{"p":"KI","f":1.063,"v":3.4},{"p":"KI","f":1.096,"v":5.2},{"p":"KI","f":1.119,"v":2.1},{"p":"KI","f":1.152,"v":2.25},{"p":"KI","f":1.185,"v":1.6},{"p":"KI","f":1.219,"v":2.1},{"p":"KI","f":1.252,"v":1.2},{"p":"KI","f":1.297,"v":2.1},{"p":"KI","f":1.341,"v":1.6},{"p":"KI","f":1.386,"v":2.1},{"p":"KI","f":1.43,"v":2.5},{"p":"KI","f":1.475,"v":1.9},{"p":"KI","f":1.52,"v":2.25},{"p":"KI","f":1.564,"v":1.6},{"p":"KI","f":1.609,"v":1.9},{"p":"KI","f":1.653,"v":2.25},{"p":"KI","f":1.709,"v":2.8},{"p":"KI","f":1.765,"v":1.2},{"p":"KI","f":1.809,"v":0.45},{"p":"KI","f":1.854,"v":0.7},{"p":"KI","f":1.898,"v":1.0},{"p":"KI","f":1.943,"v":0.7},{"p":"KI","f":1.988,"v":0.45},{"p":"KI","f":2.032,"v":0.3},{"p":"KI","f":2.077,"v":0.45},{"p":"KI","f":2.121,"v":0.6},{"p":"KI","f":2.166,"v":0.3},{"p":"KI","f":2.21,"v":0.45},{"p":"KI","f":2.255,"v":0.6},{"p":"KI","f":2.299,"v":1.2},{"p":"KI","f":2.344,"v":0.7},{"p":"KI","f":2.389,"v":1.35},{"p":"KI","f":2.433,"v":2.1},{"p":"KI","f":2.455,"v":1.6},{"p":"KI","f":2.489,"v":0.7},

{"p":"KC","f":0.016,"v":7.1},{"p":"KC","f":0.049,"v":36.4},{"p":"KC","f":0.071,"v":39.25},{"p":"KC","f":0.098,"v":41.75},{"p":"KC","f":0.116,"v":35.8},{"p":"KC","f":0.134,"v":22.1},{"p":"KC","f":0.149,"v":15.8},{"p":"KC","f":0.172,"v":13.3},{"p":"KC","f":0.194,"v":13.3},{"p":"KC","f":0.216,"v":3.9},{"p":"KC","f":0.238,"v":3.9},{"p":"KC","f":0.261,"v":4.9},{"p":"KC","f":0.29,"v":6.75},{"p":"KC","f":0.312,"v":5.2},{"p":"KC","f":0.334,"v":6.1},{"p":"KC","f":0.361,"v":5.8},{"p":"KC","f":0.388,"v":3.9},{"p":"KC","f":0.417,"v":2.1},{"p":"KC","f":0.45,"v":2.4},{"p":"KC","f":0.495,"v":3.3},{"p":"KC","f":0.528,"v":4.25},{"p":"KC","f":0.561,"v":5.5},{"p":"KC","f":0.595,"v":3.9},{"p":"KC","f":0.628,"v":2.7},{"p":"KC","f":0.662,"v":3.3},{"p":"KC","f":0.695,"v":6.4},{"p":"KC","f":0.729,"v":7.1},{"p":"KC","f":0.751,"v":3.9},{"p":"KC","f":0.773,"v":6.1},{"p":"KC","f":0.795,"v":2.7},{"p":"KC","f":0.813,"v":6.4},{"p":"KC","f":0.84,"v":3.6},{"p":"KC","f":0.873,"v":2.4},{"p":"KC","f":0.907,"v":3.9},{"p":"KC","f":0.94,"v":7.1},{"p":"KC","f":0.974,"v":7.1},{"p":"KC","f":1.003,"v":6.4},{"p":"KC","f":1.041,"v":5.2},{"p":"KC","f":1.074,"v":4.6},{"p":"KC","f":1.101,"v":4.9},{"p":"KC","f":1.119,"v":1.1},{"p":"KC","f":1.152,"v":0.8},{"p":"KC","f":1.185,"v":1.1},{"p":"KC","f":1.219,"v":0.7},{"p":"KC","f":1.252,"v":0.9},{"p":"KC","f":1.297,"v":0.5},{"p":"KC","f":1.33,"v":1.1},{"p":"KC","f":1.364,"v":4.6},{"p":"KC","f":1.397,"v":5.5},{"p":"KC","f":1.426,"v":4.6},{"p":"KC","f":1.453,"v":5.8},{"p":"KC","f":1.475,"v":4.25},{"p":"KC","f":1.508,"v":4.9},{"p":"KC","f":1.542,"v":3.3},{"p":"KC","f":1.575,"v":2.4},{"p":"KC","f":1.609,"v":3.3},{"p":"KC","f":1.642,"v":4.25},{"p":"KC","f":1.676,"v":4.6},{"p":"KC","f":1.709,"v":3.9},{"p":"KC","f":1.742,"v":3.0},{"p":"KC","f":1.776,"v":1.4},{"p":"KC","f":1.809,"v":2.4},{"p":"KC","f":1.843,"v":3.9},{"p":"KC","f":1.876,"v":4.9},{"p":"KC","f":1.91,"v":3.9},{"p":"KC","f":1.943,"v":2.7},{"p":"KC","f":1.976,"v":0.8},{"p":"KC","f":2.01,"v":0.3},{"p":"KC","f":2.054,"v":0.2},{"p":"KC","f":2.099,"v":0.5},{"p":"KC","f":2.144,"v":0.8},{"p":"KC","f":2.188,"v":1.1},{"p":"KC","f":2.233,"v":0.8},{"p":"KC","f":2.277,"v":1.75},{"p":"KC","f":2.322,"v":2.1},{"p":"KC","f":2.355,"v":2.4},{"p":"KC","f":2.389,"v":1.4},{"p":"KC","f":2.433,"v":2.1},{"p":"KC","f":2.467,"v":1.4},{"p":"KC","f":2.489,"v":1.1},

{"p":"DT","f":0.016,"v":34.6},{"p":"DT","f":0.049,"v":59.7},{"p":"DT","f":0.071,"v":42.6},{"p":"DT","f":0.094,"v":43.1},{"p":"DT","f":0.105,"v":43.5},{"p":"DT","f":0.12,"v":31.9},{"p":"DT","f":0.149,"v":15.7},{"p":"DT","f":0.183,"v":13.9},{"p":"DT","f":0.201,"v":13.0},{"p":"DT","f":0.223,"v":3.6},{"p":"DT","f":0.25,"v":14.8},{"p":"DT","f":0.283,"v":18.9},{"p":"DT","f":0.316,"v":27.4},{"p":"DT","f":0.334,"v":22.9},{"p":"DT","f":0.35,"v":14.8},{"p":"DT","f":0.372,"v":21.5},{"p":"DT","f":0.388,"v":8.5},{"p":"DT","f":0.406,"v":8.1},{"p":"DT","f":0.423,"v":8.1},{"p":"DT","f":0.45,"v":4.0},{"p":"DT","f":0.472,"v":2.7},{"p":"DT","f":0.495,"v":4.9},{"p":"DT","f":0.517,"v":8.5},{"p":"DT","f":0.544,"v":9.0},{"p":"DT","f":0.573,"v":8.5},{"p":"DT","f":0.606,"v":9.0},{"p":"DT","f":0.639,"v":9.4},{"p":"DT","f":0.662,"v":8.5},{"p":"DT","f":0.677,"v":2.2},{"p":"DT","f":0.706,"v":2.7},{"p":"DT","f":0.74,"v":3.1},{"p":"DT","f":0.767,"v":3.1},{"p":"DT","f":0.795,"v":4.9},{"p":"DT","f":0.818,"v":3.1},{"p":"DT","f":0.84,"v":1.8},{"p":"DT","f":0.873,"v":0.9},{"p":"DT","f":0.918,"v":1.2},{"p":"DT","f":0.963,"v":1.35},{"p":"DT","f":0.996,"v":1.2},{"p":"DT","f":1.029,"v":0.45},{"p":"DT","f":1.074,"v":0.27},{"p":"DT","f":1.141,"v":0.45},{"p":"DT","f":1.208,"v":0.6},{"p":"DT","f":1.275,"v":0.27},{"p":"DT","f":1.364,"v":0.27},{"p":"DT","f":1.52,"v":0.2},{"p":"DT","f":1.742,"v":0.1},{"p":"DT","f":1.965,"v":0.1},{"p":"DT","f":2.188,"v":0.1},{"p":"DT","f":2.489,"v":0.1},

{"p":"MT","f":0.016,"v":44.3},{"p":"MT","f":0.049,"v":69.3},{"p":"MT","f":0.071,"v":45.3},{"p":"MT","f":0.098,"v":43.2},{"p":"MT","f":0.12,"v":26.6},{"p":"MT","f":0.149,"v":9.4},{"p":"MT","f":0.172,"v":18.2},{"p":"MT","f":0.189,"v":19.3},{"p":"MT","f":0.205,"v":15.1},{"p":"MT","f":0.223,"v":12.5},{"p":"MT","f":0.25,"v":24.5},{"p":"MT","f":0.283,"v":31.8},{"p":"MT","f":0.312,"v":35.9},{"p":"MT","f":0.328,"v":21.4},{"p":"MT","f":0.35,"v":19.3},{"p":"MT","f":0.372,"v":16.1},{"p":"MT","f":0.388,"v":7.3},{"p":"MT","f":0.417,"v":7.3},{"p":"MT","f":0.439,"v":5.7},{"p":"MT","f":0.468,"v":2.6},{"p":"MT","f":0.495,"v":4.7},{"p":"MT","f":0.521,"v":5.7},{"p":"MT","f":0.55,"v":4.7},{"p":"MT","f":0.579,"v":3.6},{"p":"MT","f":0.606,"v":2.4},{"p":"MT","f":0.639,"v":2.1},{"p":"MT","f":0.673,"v":2.1},{"p":"MT","f":0.695,"v":0.3},{"p":"MT","f":0.729,"v":1.0},{"p":"MT","f":0.762,"v":1.6},{"p":"MT","f":0.795,"v":0.7},{"p":"MT","f":0.851,"v":0.3},{"p":"MT","f":0.94,"v":0.2},{"p":"MT","f":1.074,"v":0.1},{"p":"MT","f":1.297,"v":0.1},{"p":"MT","f":1.742,"v":0.1},{"p":"MT","f":2.489,"v":0.1},

{"p":"LT","f":0.009,"v":10.5},{"p":"LT","f":0.031,"v":21.8},{"p":"LT","f":0.053,"v":26.7},{"p":"LT","f":0.076,"v":29.4},{"p":"LT","f":0.098,"v":25.7},{"p":"LT","f":0.105,"v":24.8},{"p":"LT","f":0.12,"v":29.8},{"p":"LT","f":0.138,"v":24.3},{"p":"LT","f":0.16,"v":15.4},{"p":"LT","f":0.178,"v":11.5},{"p":"LT","f":0.194,"v":16.9},{"p":"LT","f":0.216,"v":23.3},{"p":"LT","f":0.238,"v":25.7},{"p":"LT","f":0.261,"v":28.4},{"p":"LT","f":0.283,"v":30.2},{"p":"LT","f":0.299,"v":27.7},{"p":"LT","f":0.316,"v":29.7},{"p":"LT","f":0.343,"v":32.6},{"p":"LT","f":0.361,"v":26.7},{"p":"LT","f":0.388,"v":14.5},{"p":"LT","f":0.406,"v":21.8},{"p":"LT","f":0.423,"v":19.4},{"p":"LT","f":0.446,"v":13.5},{"p":"LT","f":0.461,"v":7.6},{"p":"LT","f":0.484,"v":5.6},{"p":"LT","f":0.506,"v":4.7},{"p":"LT","f":0.521,"v":2.45},{"p":"LT","f":0.544,"v":4.7},{"p":"LT","f":0.566,"v":7.6},{"p":"LT","f":0.588,"v":13.2},{"p":"LT","f":0.611,"v":12.5},{"p":"LT","f":0.639,"v":10.5},{"p":"LT","f":0.662,"v":8.3},{"p":"LT","f":0.684,"v":1.7},{"p":"LT","f":0.706,"v":3.4},{"p":"LT","f":0.729,"v":4.7},{"p":"LT","f":0.751,"v":3.7},{"p":"LT","f":0.784,"v":4.4},{"p":"LT","f":0.818,"v":4.2},{"p":"LT","f":0.847,"v":2.2},{"p":"LT","f":0.873,"v":1.3},{"p":"LT","f":0.907,"v":2.2},{"p":"LT","f":0.94,"v":2.2},{"p":"LT","f":0.974,"v":2.0},{"p":"LT","f":1.007,"v":1.0},{"p":"LT","f":1.041,"v":0.7},{"p":"LT","f":1.074,"v":0.8},{"p":"LT","f":1.107,"v":0.25},{"p":"LT","f":1.141,"v":0.5},{"p":"LT","f":1.174,"v":1.1},{"p":"LT","f":1.208,"v":0.5},{"p":"LT","f":1.241,"v":0.25},{"p":"LT","f":1.297,"v":0.35},{"p":"LT","f":1.364,"v":0.15},{"p":"LT","f":1.453,"v":0.1},{"p":"LT","f":1.564,"v":0.15},{"p":"LT","f":1.742,"v":0.1},{"p":"LT","f":1.965,"v":0.1},{"p":"LT","f":2.188,"v":0.1},{"p":"LT","f":2.489,"v":0.1}
]
},
"columns":3,
"spacing":{"row":59,"column":66},
"bounds":"flush",
"concat":[
{"width":374,"height":266,"layer":[
 {"data":{"name":"bands"},"transform":[{"filter":"datum.col==0"}],"mark":{"type":"rect","y2Offset":59},
  "encoding":{"x":{"field":"f0","type":"quantitative","scale":{"domain":[0,2.5],"nice":false,"zero":false},"axis":{"title":"Frequency (cycles/m)","zindex":1,"values":[0,0.5,1,1.5,2,2.5],"labelExpr":"datum.value==0?'0':format(datum.value,'.1f')"}},"x2":{"field":"f1"},
   "y":{"datum":15.3,"type":"quantitative","scale":{"domain":[0,15.3],"nice":false,"zero":true},"axis":{"title":"Power (x10⁻³)","zindex":1,"values":[0,5,10,15]}},"y2":{"datum":0},
   "fill":{"field":"band","type":"nominal","scale":{"domain":["E","e","O","P"],"range":["#fbd9c9","#fde3c8","#e1eed7","#dae4f2"]},"legend":null}}},
 {"data":{"name":"cl"},"transform":[{"filter":"datum.p=='MS'"}],"mark":{"type":"line","strokeDash":[7,7],"strokeWidth":1.6,"interpolate":"monotone","clip":true},
  "encoding":{"x":{"field":"f","type":"quantitative"},"y":{"field":"v","type":"quantitative"},"color":{"field":"c","type":"nominal","scale":{"domain":["99% CL","95% CL","90% CL","50% CL","E","e","O","P"],"range":["#e8684c","#f2a43c","#3f9b3f","#6a62d0","#e05a3a","#f0a038","#3a9e3a","#4a7cc0"]},"legend":null}}},
 {"data":{"name":"spec"},"transform":[{"filter":"datum.p=='MS'"}],"mark":{"type":"line","color":"#111","strokeWidth":1.5,"clip":true},
  "encoding":{"x":{"field":"f","type":"quantitative"},"y":{"field":"v","type":"quantitative"}}},
 {"data":{"name":"leads"},"transform":[{"filter":"datum.p=='MS'"}],"mark":{"type":"rule","color":"#111","strokeWidth":1.4},
  "encoding":{"x":{"field":"f","type":"quantitative"},"y":{"field":"v0","type":"quantitative"},"y2":{"field":"v1"}}},
 {"data":{"name":"peaks"},"transform":[{"filter":"datum.p=='MS'"}],"mark":{"type":"text","fontSize":18,"color":"#111"},
  "encoding":{"x":{"field":"f","type":"quantitative"},"y":{"field":"v","type":"quantitative"},"text":{"field":"t"}}},
 {"data":{"values":[{}]},"mark":{"type":"text","fontSize":26.5,"color":"#111"},"encoding":{"x":{"datum":1.676},"y":{"datum":13.9},"text":{"value":"2π-MTM - MS"}}},
 {"data":{"name":"bandlab"},"transform":[{"filter":"datum.col==0 && datum.band!='e'"}],"mark":{"type":"text","fontSize":21,"dy":-43},
  "encoding":{"x":{"field":"f","type":"quantitative"},"y":{"datum":15.3},"text":{"field":"name"},"color":{"field":"band","type":"nominal","scale":{"domain":["99% CL","95% CL","90% CL","50% CL","E","e","O","P"],"range":["#e8684c","#f2a43c","#3f9b3f","#6a62d0","#e05a3a","#f0a038","#3a9e3a","#4a7cc0"]},"legend":null}}},
 {"data":{"name":"bandlab"},"transform":[{"filter":"datum.col==0 && datum.band!='e'"}],"mark":{"type":"text","fontSize":21,"dy":-15},
  "encoding":{"x":{"field":"f","type":"quantitative"},"y":{"datum":15.3},"text":{"field":"per"},"color":{"field":"band","type":"nominal","legend":null}}},
 {"data":{"name":"bandlab"},"transform":[{"filter":"datum.col==0 && datum.band=='e'"}],"mark":{"type":"text","fontSize":21,"dy":-76},
  "encoding":{"x":{"field":"f","type":"quantitative"},"y":{"datum":15.3},"text":{"field":"name"},"color":{"field":"band","type":"nominal","legend":null}}},
 {"data":{"name":"bandlab"},"transform":[{"filter":"datum.col==0 && datum.band=='e'"}],"mark":{"type":"text","fontSize":21,"dy":-50},
  "encoding":{"x":{"field":"f","type":"quantitative"},"y":{"datum":15.3},"text":{"field":"per"},"color":{"field":"band","type":"nominal","legend":null}}},
 {"data":{"name":"bandlab"},"transform":[{"filter":"datum.col==0 && datum.band=='e'"}],"mark":{"type":"rule","strokeWidth":1.5,"y2Offset":-37},
  "encoding":{"x":{"field":"f","type":"quantitative"},"y":{"datum":15.3},"y2":{"datum":15.3},"color":{"field":"band","type":"nominal","legend":null}}}
]},
{"width":374,"height":266,"layer":[
 {"data":{"name":"bands"},"transform":[{"filter":"datum.col==1"}],"mark":{"type":"rect","y2Offset":59},
  "encoding":{"x":{"field":"f0","type":"quantitative","scale":{"domain":[0,2.5],"nice":false,"zero":false},"axis":{"title":"Frequency (cycles/m)","zindex":1,"values":[0,0.5,1,1.5,2,2.5],"labelExpr":"datum.value==0?'0':format(datum.value,'.1f')"}},"x2":{"field":"f1"},
   "y":{"datum":22.35,"type":"quantitative","scale":{"domain":[0,22.35],"nice":false,"zero":true},"axis":{"title":"Power (x10⁻³)","zindex":1,"values":[0,5,10,15,20]}},"y2":{"datum":0},
   "fill":{"field":"band","type":"nominal","scale":{"domain":["E","e","O","P"],"range":["#fbd9c9","#fde3c8","#e1eed7","#dae4f2"]},"legend":null}}},
 {"data":{"name":"cl"},"transform":[{"filter":"datum.p=='CaCO3'"}],"mark":{"type":"line","strokeDash":[7,7],"strokeWidth":1.6,"interpolate":"monotone","clip":true},
  "encoding":{"x":{"field":"f","type":"quantitative"},"y":{"field":"v","type":"quantitative"},"color":{"field":"c","type":"nominal","scale":{"domain":["99% CL","95% CL","90% CL","50% CL","E","e","O","P"],"range":["#e8684c","#f2a43c","#3f9b3f","#6a62d0","#e05a3a","#f0a038","#3a9e3a","#4a7cc0"]},"legend":null}}},
 {"data":{"name":"spec"},"transform":[{"filter":"datum.p=='CaCO3'"}],"mark":{"type":"line","color":"#111","strokeWidth":1.5,"clip":true},
  "encoding":{"x":{"field":"f","type":"quantitative"},"y":{"field":"v","type":"quantitative"}}},
 {"data":{"name":"peaks"},"transform":[{"filter":"datum.p=='CaCO3'"}],"mark":{"type":"text","fontSize":18,"color":"#111"},
  "encoding":{"x":{"field":"f","type":"quantitative"},"y":{"field":"v","type":"quantitative"},"text":{"field":"t"}}},
 {"data":{"values":[{}]},"mark":{"type":"text","fontSize":26.5,"color":"#111"},"encoding":{"x":{"datum":1.78},"y":{"datum":20.3},"text":{"value":"2π-MTM - CaCO₃"}}},
 {"data":{"name":"bandlab"},"transform":[{"filter":"datum.col==1 && datum.band!='e'"}],"mark":{"type":"text","fontSize":21,"dy":-43},
  "encoding":{"x":{"field":"f","type":"quantitative"},"y":{"datum":22.35},"text":{"field":"name"},"color":{"field":"band","type":"nominal","scale":{"domain":["99% CL","95% CL","90% CL","50% CL","E","e","O","P"],"range":["#e8684c","#f2a43c","#3f9b3f","#6a62d0","#e05a3a","#f0a038","#3a9e3a","#4a7cc0"]},"legend":null}}},
 {"data":{"name":"bandlab"},"transform":[{"filter":"datum.col==1 && datum.band!='e'"}],"mark":{"type":"text","fontSize":21,"dy":-15},
  "encoding":{"x":{"field":"f","type":"quantitative"},"y":{"datum":22.35},"text":{"field":"per"},"color":{"field":"band","type":"nominal","legend":null}}},
 {"data":{"name":"bandlab"},"transform":[{"filter":"datum.col==1 && datum.band=='e'"}],"mark":{"type":"text","fontSize":21,"dy":-76},
  "encoding":{"x":{"field":"f","type":"quantitative"},"y":{"datum":22.35},"text":{"field":"name"},"color":{"field":"band","type":"nominal","legend":null}}},
 {"data":{"name":"bandlab"},"transform":[{"filter":"datum.col==1 && datum.band=='e'"}],"mark":{"type":"text","fontSize":21,"dy":-50},
  "encoding":{"x":{"field":"f","type":"quantitative"},"y":{"datum":22.35},"text":{"field":"per"},"color":{"field":"band","type":"nominal","legend":null}}},
 {"data":{"name":"bandlab"},"transform":[{"filter":"datum.col==1 && datum.band=='e'"}],"mark":{"type":"rule","strokeWidth":1.5,"y2Offset":-37},
  "encoding":{"x":{"field":"f","type":"quantitative"},"y":{"datum":22.35},"y2":{"datum":22.35},"color":{"field":"band","type":"nominal","legend":null}}}
]},
{"width":374,"height":266,"layer":[
 {"data":{"name":"bands"},"transform":[{"filter":"datum.col==2"}],"mark":{"type":"rect","y2Offset":59},
  "encoding":{"x":{"field":"f0","type":"quantitative","scale":{"domain":[0,2.5],"nice":false,"zero":false},"axis":{"title":"Frequency (cycles/m)","zindex":1,"values":[0,0.5,1,1.5,2,2.5],"labelExpr":"datum.value==0?'0':format(datum.value,'.1f')"}},"x2":{"field":"f1"},
   "y":{"datum":29.3,"type":"quantitative","scale":{"domain":[0,29.3],"nice":false,"zero":true},"axis":{"title":"Power (x10⁻³)","zindex":1,"values":[0,5,10,15,20,25]}},"y2":{"datum":0},
   "fill":{"field":"band","type":"nominal","scale":{"domain":["E","e","O","P"],"range":["#fbd9c9","#fde3c8","#e1eed7","#dae4f2"]},"legend":null}}},
 {"data":{"name":"cl"},"transform":[{"filter":"datum.p=='GRS'"}],"mark":{"type":"line","strokeDash":[7,7],"strokeWidth":1.6,"interpolate":"monotone","clip":true},
  "encoding":{"x":{"field":"f","type":"quantitative"},"y":{"field":"v","type":"quantitative"},"color":{"field":"c","type":"nominal","scale":{"domain":["99% CL","95% CL","90% CL","50% CL","E","e","O","P"],"range":["#e8684c","#f2a43c","#3f9b3f","#6a62d0","#e05a3a","#f0a038","#3a9e3a","#4a7cc0"]},"legend":null}}},
 {"data":{"name":"spec"},"transform":[{"filter":"datum.p=='GRS'"}],"mark":{"type":"line","color":"#111","strokeWidth":1.5,"clip":true},
  "encoding":{"x":{"field":"f","type":"quantitative"},"y":{"field":"v","type":"quantitative"}}},
 {"data":{"name":"peaks"},"transform":[{"filter":"datum.p=='GRS'"}],"mark":{"type":"text","fontSize":18,"color":"#111"},
  "encoding":{"x":{"field":"f","type":"quantitative"},"y":{"field":"v","type":"quantitative"},"text":{"field":"t"}}},
 {"data":{"values":[{}]},"mark":{"type":"text","fontSize":26.5,"color":"#111"},"encoding":{"x":{"datum":1.678},"y":{"datum":26.9},"text":{"value":"2π-MTM - GRS"}}},
 {"data":{"name":"bandlab"},"transform":[{"filter":"datum.col==2 && datum.band!='e'"}],"mark":{"type":"text","fontSize":21,"dy":-43},
  "encoding":{"x":{"field":"f","type":"quantitative"},"y":{"datum":29.3},"text":{"field":"name"},"color":{"field":"band","type":"nominal","scale":{"domain":["99% CL","95% CL","90% CL","50% CL","E","e","O","P"],"range":["#e8684c","#f2a43c","#3f9b3f","#6a62d0","#e05a3a","#f0a038","#3a9e3a","#4a7cc0"]},"legend":null}}},
 {"data":{"name":"bandlab"},"transform":[{"filter":"datum.col==2 && datum.band!='e'"}],"mark":{"type":"text","fontSize":21,"dy":-15},
  "encoding":{"x":{"field":"f","type":"quantitative"},"y":{"datum":29.3},"text":{"field":"per"},"color":{"field":"band","type":"nominal","legend":null}}},
 {"data":{"name":"bandlab"},"transform":[{"filter":"datum.col==2 && datum.band=='e'"}],"mark":{"type":"text","fontSize":21,"dy":-76},
  "encoding":{"x":{"field":"f","type":"quantitative"},"y":{"datum":29.3},"text":{"field":"name"},"color":{"field":"band","type":"nominal","legend":null}}},
 {"data":{"name":"bandlab"},"transform":[{"filter":"datum.col==2 && datum.band=='e'"}],"mark":{"type":"text","fontSize":21,"dy":-50},
  "encoding":{"x":{"field":"f","type":"quantitative"},"y":{"datum":29.3},"text":{"field":"per"},"color":{"field":"band","type":"nominal","legend":null}}},
 {"data":{"name":"bandlab"},"transform":[{"filter":"datum.col==2 && datum.band=='e'"}],"mark":{"type":"rule","strokeWidth":1.5,"y2Offset":-37},
  "encoding":{"x":{"field":"f","type":"quantitative"},"y":{"datum":29.3},"y2":{"datum":29.3},"color":{"field":"band","type":"nominal","legend":null}}}
]},
{"width":374,"height":266,"layer":[
 {"data":{"name":"bands"},"transform":[{"filter":"datum.col==0"}],"mark":{"type":"rect","y2Offset":59},
  "encoding":{"x":{"field":"f0","type":"quantitative","scale":{"domain":[0,2.5],"nice":false,"zero":false},"axis":{"title":"Frequency (cycles/m)","zindex":1,"values":[0,0.5,1,1.5,2,2.5],"labelExpr":"datum.value==0?'0':format(datum.value,'.1f')"}},"x2":{"field":"f1"},
   "y":{"datum":66.7,"type":"quantitative","scale":{"domain":[0,66.7],"nice":false,"zero":true},"axis":{"title":"Power (x10⁻³)","zindex":1,"values":[0,10,20,30,40,50,60]}},"y2":{"datum":0},
   "fill":{"field":"band","type":"nominal","scale":{"domain":["E","e","O","P"],"range":["#fbd9c9","#fde3c8","#e1eed7","#dae4f2"]},"legend":null}}},
 {"data":{"name":"cl"},"transform":[{"filter":"datum.p=='KS'"}],"mark":{"type":"line","strokeDash":[7,7],"strokeWidth":1.6,"interpolate":"monotone","clip":true},
  "encoding":{"x":{"field":"f","type":"quantitative"},"y":{"field":"v","type":"quantitative"},"color":{"field":"c","type":"nominal","scale":{"domain":["99% CL","95% CL","90% CL","50% CL"],"range":["#e8684c","#f2a43c","#3f9b3f","#6a62d0"]},"legend":null}}},
 {"data":{"name":"spec"},"transform":[{"filter":"datum.p=='KS'"}],"mark":{"type":"line","color":"#111","strokeWidth":1.5,"clip":true},
  "encoding":{"x":{"field":"f","type":"quantitative"},"y":{"field":"v","type":"quantitative"}}},
 {"data":{"name":"peaks"},"transform":[{"filter":"datum.p=='KS'"}],"mark":{"type":"text","fontSize":18,"color":"#111"},
  "encoding":{"x":{"field":"f","type":"quantitative"},"y":{"field":"v","type":"quantitative"},"text":{"field":"t"}}},
 {"data":{"values":[{}]},"mark":{"type":"text","fontSize":26.5,"color":"#111","lineHeight":33},"encoding":{"x":{"datum":1.77},"y":{"datum":60.6},"text":{"value":["2π-MTM -","kaolinite/smectite"]}}}
]},
{"width":374,"height":266,"layer":[
 {"data":{"name":"bands"},"transform":[{"filter":"datum.col==1"}],"mark":{"type":"rect","y2Offset":59},
  "encoding":{"x":{"field":"f0","type":"quantitative","scale":{"domain":[0,2.5],"nice":false,"zero":false},"axis":{"title":"Frequency (cycles/m)","zindex":1,"values":[0,0.5,1,1.5,2,2.5],"labelExpr":"datum.value==0?'0':format(datum.value,'.1f')"}},"x2":{"field":"f1"},
   "y":{"datum":71.8,"type":"quantitative","scale":{"domain":[0,71.8],"nice":false,"zero":true},"axis":{"title":"Power (x10⁻³)","zindex":1,"values":[0,10,20,30,40,50,60,70]}},"y2":{"datum":0},
   "fill":{"field":"band","type":"nominal","scale":{"domain":["E","e","O","P"],"range":["#fbd9c9","#fde3c8","#e1eed7","#dae4f2"]},"legend":null}}},
 {"data":{"name":"cl"},"transform":[{"filter":"datum.p=='KI'"}],"mark":{"type":"line","strokeDash":[7,7],"strokeWidth":1.6,"interpolate":"monotone","clip":true},
  "encoding":{"x":{"field":"f","type":"quantitative"},"y":{"field":"v","type":"quantitative"},"color":{"field":"c","type":"nominal","scale":{"domain":["99% CL","95% CL","90% CL","50% CL"],"range":["#e8684c","#f2a43c","#3f9b3f","#6a62d0"]},"legend":null}}},
 {"data":{"name":"spec"},"transform":[{"filter":"datum.p=='KI'"}],"mark":{"type":"line","color":"#111","strokeWidth":1.5,"clip":true},
  "encoding":{"x":{"field":"f","type":"quantitative"},"y":{"field":"v","type":"quantitative"}}},
 {"data":{"name":"peaks"},"transform":[{"filter":"datum.p=='KI'"}],"mark":{"type":"text","fontSize":18,"color":"#111"},
  "encoding":{"x":{"field":"f","type":"quantitative"},"y":{"field":"v","type":"quantitative"},"text":{"field":"t"}}},
 {"data":{"values":[{}]},"mark":{"type":"text","fontSize":26.5,"color":"#111","lineHeight":33},"encoding":{"x":{"datum":1.656},"y":{"datum":65.3},"text":{"value":["2π-MTM -","kaolinite/illite"]}}}
]},
{"width":374,"height":266,"layer":[
 {"data":{"name":"bands"},"transform":[{"filter":"datum.col==2"}],"mark":{"type":"rect","y2Offset":59},
  "encoding":{"x":{"field":"f0","type":"quantitative","scale":{"domain":[0,2.5],"nice":false,"zero":false},"axis":{"title":"Frequency (cycles/m)","zindex":1,"values":[0,0.5,1,1.5,2,2.5],"labelExpr":"datum.value==0?'0':format(datum.value,'.1f')"}},"x2":{"field":"f1"},
   "y":{"datum":49.9,"type":"quantitative","scale":{"domain":[0,49.9],"nice":false,"zero":true},"axis":{"title":"Power (x10⁻³)","zindex":1,"values":[0,10,20,30,40]}},"y2":{"datum":0},
   "fill":{"field":"band","type":"nominal","scale":{"domain":["E","e","O","P"],"range":["#fbd9c9","#fde3c8","#e1eed7","#dae4f2"]},"legend":null}}},
 {"data":{"name":"cl"},"transform":[{"filter":"datum.p=='KC'"}],"mark":{"type":"line","strokeDash":[7,7],"strokeWidth":1.6,"interpolate":"monotone","clip":true},
  "encoding":{"x":{"field":"f","type":"quantitative"},"y":{"field":"v","type":"quantitative"},"color":{"field":"c","type":"nominal","scale":{"domain":["99% CL","95% CL","90% CL","50% CL"],"range":["#e8684c","#f2a43c","#3f9b3f","#6a62d0"]},"legend":null}}},
 {"data":{"name":"spec"},"transform":[{"filter":"datum.p=='KC'"}],"mark":{"type":"line","color":"#111","strokeWidth":1.5,"clip":true},
  "encoding":{"x":{"field":"f","type":"quantitative"},"y":{"field":"v","type":"quantitative"}}},
 {"data":{"name":"leads"},"transform":[{"filter":"datum.p=='KC'"}],"mark":{"type":"rule","color":"#111","strokeWidth":1.4},
  "encoding":{"x":{"field":"f","type":"quantitative"},"y":{"field":"v0","type":"quantitative"},"y2":{"field":"v1"}}},
 {"data":{"name":"peaks"},"transform":[{"filter":"datum.p=='KC'"}],"mark":{"type":"text","fontSize":18,"color":"#111"},
  "encoding":{"x":{"field":"f","type":"quantitative"},"y":{"field":"v","type":"quantitative"},"text":{"field":"t"}}},
 {"data":{"values":[{}]},"mark":{"type":"text","fontSize":26.5,"color":"#111","lineHeight":33},"encoding":{"x":{"datum":1.77},"y":{"datum":45.3},"text":{"value":["2π-MTM -","kaolinite/chlorite"]}}}
]},
{"width":374,"height":266,"layer":[
 {"data":{"name":"bands"},"transform":[{"filter":"datum.col==0"}],"mark":{"type":"rect"},
  "encoding":{"x":{"field":"f0","type":"quantitative","scale":{"domain":[0,2.5],"nice":false,"zero":false},"axis":{"title":"Frequency (cycles/m)","zindex":1,"values":[0,0.5,1,1.5,2,2.5],"labelExpr":"datum.value==0?'0':format(datum.value,'.1f')"}},"x2":{"field":"f1"},
   "y":{"datum":71.3,"type":"quantitative","scale":{"domain":[0,71.3],"nice":false,"zero":true},"axis":{"title":"Power (x10⁻³)","zindex":1,"values":[0,10,20,30,40,50,60,70]}},"y2":{"datum":0},
   "fill":{"field":"band","type":"nominal","scale":{"domain":["E","e","O","P"],"range":["#fbd9c9","#fde3c8","#e1eed7","#dae4f2"]},"legend":null}}},
 {"data":{"name":"cl"},"transform":[{"filter":"datum.p=='DT'"}],"mark":{"type":"line","strokeDash":[7,7],"strokeWidth":1.6,"interpolate":"monotone","clip":true},
  "encoding":{"x":{"field":"f","type":"quantitative"},"y":{"field":"v","type":"quantitative"},"color":{"field":"c","type":"nominal","scale":{"domain":["99% CL","95% CL","90% CL","50% CL"],"range":["#e8684c","#f2a43c","#3f9b3f","#6a62d0"]},"legend":null}}},
 {"data":{"name":"spec"},"transform":[{"filter":"datum.p=='DT'"}],"mark":{"type":"line","color":"#111","strokeWidth":1.5,"clip":true},
  "encoding":{"x":{"field":"f","type":"quantitative"},"y":{"field":"v","type":"quantitative"}}},
 {"data":{"name":"peaks"},"transform":[{"filter":"datum.p=='DT'"}],"mark":{"type":"text","fontSize":18,"color":"#111"},
  "encoding":{"x":{"field":"f","type":"quantitative"},"y":{"field":"v","type":"quantitative"},"text":{"field":"t"}}},
 {"data":{"values":[{}]},"mark":{"type":"text","fontSize":26.5,"color":"#111","lineHeight":33},"encoding":{"x":{"datum":1.655},"y":{"datum":65.5},"text":{"value":["2π-MTM -","Doublet thickness"]}}}
]},
{"width":374,"height":266,"layer":[
 {"data":{"name":"bands"},"transform":[{"filter":"datum.col==1"}],"mark":{"type":"rect"},
  "encoding":{"x":{"field":"f0","type":"quantitative","scale":{"domain":[0,2.5],"nice":false,"zero":false},"axis":{"title":"Frequency (cycles/m)","zindex":1,"values":[0,0.5,1,1.5,2,2.5],"labelExpr":"datum.value==0?'0':format(datum.value,'.1f')"}},"x2":{"field":"f1"},
   "y":{"datum":82.8,"type":"quantitative","scale":{"domain":[0,82.8],"nice":false,"zero":true},"axis":{"title":"Power (x10⁻³)","zindex":1,"values":[0,20,40,60,80]}},"y2":{"datum":0},
   "fill":{"field":"band","type":"nominal","scale":{"domain":["E","e","O","P"],"range":["#fbd9c9","#fde3c8","#e1eed7","#dae4f2"]},"legend":null}}},
 {"data":{"name":"cl"},"transform":[{"filter":"datum.p=='MT'"}],"mark":{"type":"line","strokeDash":[7,7],"strokeWidth":1.6,"interpolate":"monotone","clip":true},
  "encoding":{"x":{"field":"f","type":"quantitative"},"y":{"field":"v","type":"quantitative"},"color":{"field":"c","type":"nominal","scale":{"domain":["99% CL","95% CL","90% CL","50% CL"],"range":["#e8684c","#f2a43c","#3f9b3f","#6a62d0"]},
   "legend":{"orient":"none","legendX":-114,"legendY":322,"direction":"horizontal","title":"Confidence Levels (CL):","symbolType":"M-1,0H5","symbolDash":[12,5],"symbolStrokeWidth":2,"symbolSize":324,"labelFontSize":19,"titleFontSize":19,"titleFontWeight":"normal","titleColor":"#222","labelColor":"#222","strokeColor":"#333","padding":9,"columnPadding":22,"labelOffset":40,"titlePadding":6,"titleAnchor":"start","titleLimit":500,"labelLimit":300}}}},
 {"data":{"name":"spec"},"transform":[{"filter":"datum.p=='MT'"}],"mark":{"type":"line","color":"#111","strokeWidth":1.5,"clip":true},
  "encoding":{"x":{"field":"f","type":"quantitative"},"y":{"field":"v","type":"quantitative"}}},
 {"data":{"name":"peaks"},"transform":[{"filter":"datum.p=='MT'"}],"mark":{"type":"text","fontSize":18,"color":"#111"},
  "encoding":{"x":{"field":"f","type":"quantitative"},"y":{"field":"v","type":"quantitative"},"text":{"field":"t"}}},
 {"data":{"values":[{}]},"mark":{"type":"text","fontSize":26.5,"color":"#111","lineHeight":33},"encoding":{"x":{"datum":1.765},"y":{"datum":76.6},"text":{"value":["2π-MTM -","Marl thickness"]}}}
]},
{"width":374,"height":266,"layer":[
 {"data":{"name":"bands"},"transform":[{"filter":"datum.col==2"}],"mark":{"type":"rect"},
  "encoding":{"x":{"field":"f0","type":"quantitative","scale":{"domain":[0,2.5],"nice":false,"zero":false},"axis":{"title":"Frequency (cycles/m)","zindex":1,"values":[0,0.5,1,1.5,2,2.5],"labelExpr":"datum.value==0?'0':format(datum.value,'.1f')"}},"x2":{"field":"f1"},
   "y":{"datum":39.0,"type":"quantitative","scale":{"domain":[0,39.0],"nice":false,"zero":true},"axis":{"title":"Power (x10⁻³)","zindex":1,"values":[0,10,20,30]}},"y2":{"datum":0},
   "fill":{"field":"band","type":"nominal","scale":{"domain":["E","e","O","P"],"range":["#fbd9c9","#fde3c8","#e1eed7","#dae4f2"]},"legend":null}}},
 {"data":{"name":"cl"},"transform":[{"filter":"datum.p=='LT'"}],"mark":{"type":"line","strokeDash":[7,7],"strokeWidth":1.6,"interpolate":"monotone","clip":true},
  "encoding":{"x":{"field":"f","type":"quantitative"},"y":{"field":"v","type":"quantitative"},"color":{"field":"c","type":"nominal","scale":{"domain":["99% CL","95% CL","90% CL","50% CL"],"range":["#e8684c","#f2a43c","#3f9b3f","#6a62d0"]},"legend":null}}},
 {"data":{"name":"spec"},"transform":[{"filter":"datum.p=='LT'"}],"mark":{"type":"line","color":"#111","strokeWidth":1.5,"clip":true},
  "encoding":{"x":{"field":"f","type":"quantitative"},"y":{"field":"v","type":"quantitative"}}},
 {"data":{"name":"leads"},"transform":[{"filter":"datum.p=='LT'"}],"mark":{"type":"rule","color":"#111","strokeWidth":1.4},
  "encoding":{"x":{"field":"f","type":"quantitative"},"y":{"field":"v0","type":"quantitative"},"y2":{"field":"v1"}}},
 {"data":{"name":"peaks"},"transform":[{"filter":"datum.p=='LT'"}],"mark":{"type":"text","fontSize":18,"color":"#111"},
  "encoding":{"x":{"field":"f","type":"quantitative"},"y":{"field":"v","type":"quantitative"},"text":{"field":"t"}}},
 {"data":{"values":[{}]},"mark":{"type":"text","fontSize":26.5,"color":"#111","lineHeight":33},"encoding":{"x":{"datum":1.655},"y":{"datum":36.0},"text":{"value":["2π-MTM -","Limestone thickness"]}}}
]}
]
}
